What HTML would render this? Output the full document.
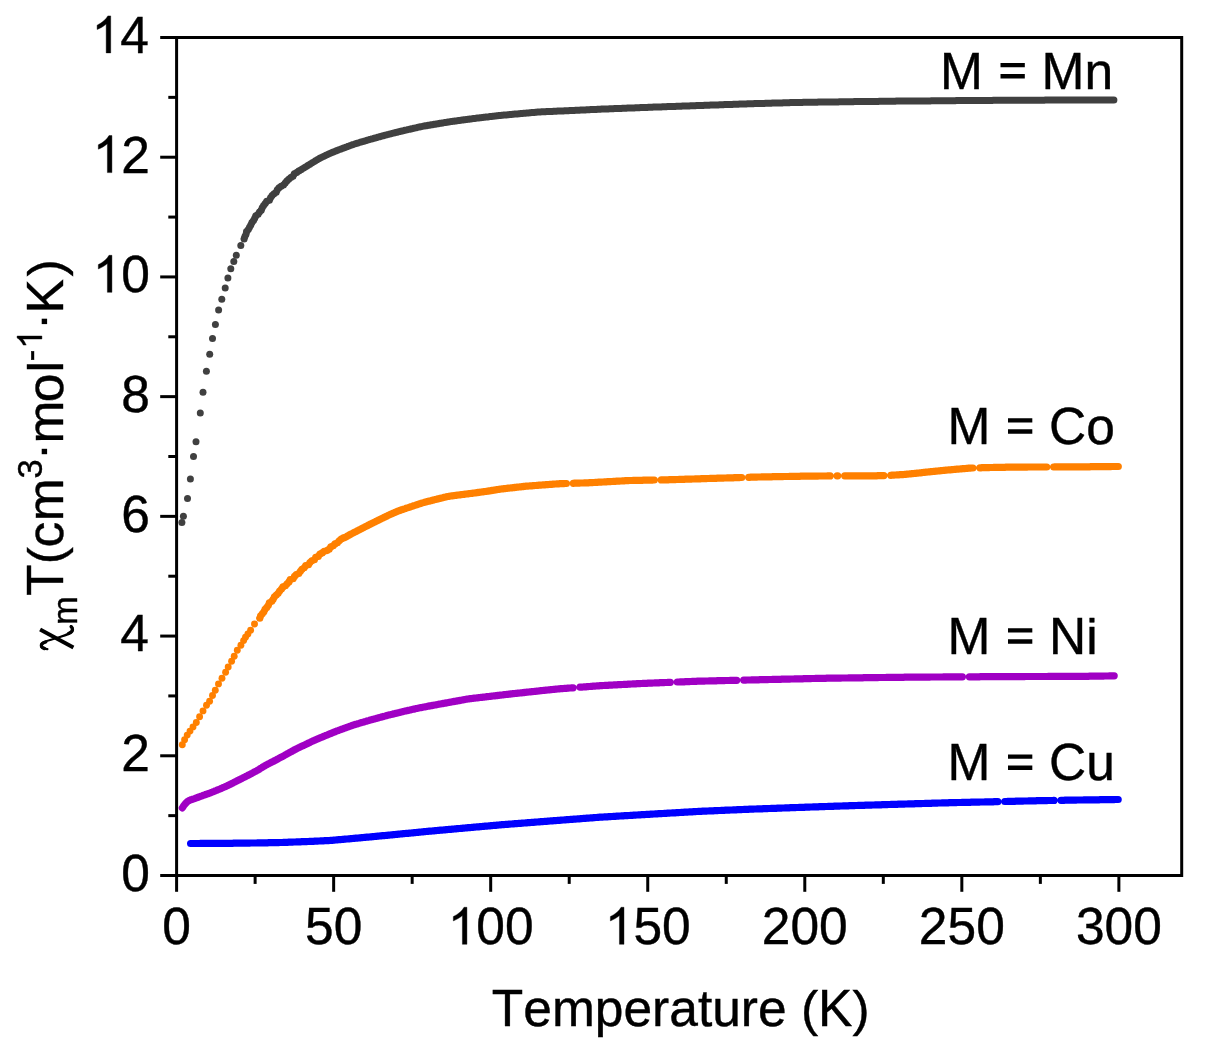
<!DOCTYPE html>
<html><head><meta charset="utf-8"><title>chart</title>
<style>html,body{margin:0;padding:0;background:#fff;}body{width:1206px;height:1052px;overflow:hidden;}svg{display:block;}text{font-family:"Liberation Sans",sans-serif;fill:#000;font-kerning:none;font-variant-ligatures:none;white-space:pre;stroke:#000;stroke-width:0.40px;}</style></head><body>
<svg width="1206" height="1052" viewBox="0 0 1206 1052">
<rect x="0" y="0" width="1206" height="1052" fill="#fff"/>
<defs><filter id="g" x="-20%" y="-20%" width="140%" height="140%" color-interpolation-filters="sRGB"><feOffset dx="0" dy="0"/></filter></defs>
<g>
<path d="M190.6 843.5 L191.6 843.5 L192.6 843.5 L193.6 843.5 L194.6 843.5 L195.6 843.5 L196.6 843.5 L197.6 843.5 L198.6 843.5 L199.6 843.5 L200.6 843.4 L201.6 843.4 L202.6 843.4 L203.6 843.4 L204.6 843.4 L205.6 843.4 L206.6 843.4 L207.6 843.4 L208.6 843.4 L209.6 843.4 L210.6 843.4 L211.6 843.4 L212.6 843.4 L213.6 843.4 L214.6 843.4 L215.6 843.4 L216.6 843.4 L217.6 843.4 L218.6 843.4 L219.6 843.3 L220.6 843.3 L221.6 843.3 L222.6 843.3 L223.6 843.3 L224.6 843.3 L225.6 843.3 L226.6 843.3 L227.6 843.3 L228.6 843.3 L229.6 843.3 L230.6 843.3 L231.6 843.3 L232.6 843.3 L233.6 843.2 L234.6 843.2 L235.6 843.2 L236.6 843.2 L237.6 843.2 L238.6 843.2 L239.6 843.2 L240.6 843.2 L241.6 843.1 L242.6 843.1 L243.6 843.1 L244.6 843.1 L245.6 843.1 L246.6 843.1 L247.6 843.1 L248.6 843.1 L249.6 843.1 L250.6 843.0 L251.6 843.0 L252.6 843.0 L253.6 843.0 L254.6 843.0 L255.6 843.0 L256.6 843.0 L257.6 842.9 L258.6 842.9 L259.6 842.9 L260.6 842.9 L261.6 842.9 L262.6 842.9 L263.6 842.8 L264.6 842.8 L265.6 842.8 L266.6 842.8 L267.6 842.8 L268.6 842.7 L269.6 842.7 L270.6 842.7 L271.6 842.7 L272.6 842.7 L273.6 842.6 L274.6 842.6 L275.6 842.6 L276.6 842.6 L277.6 842.6 L278.6 842.6 L279.6 842.5 L280.6 842.5 L281.6 842.5 L282.6 842.5 L283.6 842.4 L284.6 842.4 L285.6 842.3 L286.6 842.3 L287.6 842.3 L288.6 842.2 L289.6 842.2 L290.6 842.2 L291.6 842.1 L292.6 842.1 L293.6 842.0 L294.6 842.0 L295.6 842.0 L296.6 841.9 L297.6 841.9 L298.6 841.9 L299.6 841.8 L300.6 841.8 L301.6 841.7 L302.6 841.7 L303.6 841.7 L304.6 841.6 L305.6 841.6 L306.6 841.6 L307.6 841.5 L308.6 841.5 L309.6 841.4 L310.6 841.4 L311.6 841.3 L312.6 841.3 L313.6 841.3 L314.6 841.2 L315.6 841.2 L316.6 841.1 L317.6 841.1 L318.6 841.0 L319.6 841.0 L320.6 840.9 L321.6 840.9 L322.6 840.8 L323.6 840.8 L324.6 840.7 L325.6 840.7 L326.6 840.7 L327.6 840.6 L328.6 840.6 L329.6 840.5 L330.5 840.4 L331.5 840.4 L332.5 840.3 L333.5 840.2 L334.5 840.1 L335.5 840.0 L336.5 839.9 L337.5 839.8 L338.5 839.7 L339.5 839.7 L340.5 839.6 L341.5 839.5 L342.5 839.4 L343.5 839.3 L344.5 839.2 L345.5 839.1 L346.5 839.0 L347.5 839.0 L348.5 838.9 L349.5 838.8 L350.5 838.7 L351.5 838.6 L352.5 838.5 L353.5 838.4 L354.5 838.3 L355.5 838.2 L356.4 838.2 L357.4 838.1 L358.4 838.0 L359.4 837.9 L360.4 837.8 L361.4 837.7 L362.4 837.6 L363.4 837.5 L364.4 837.4 L365.4 837.3 L366.4 837.2 L367.4 837.1 L368.4 837.1 L369.4 837.0 L370.4 836.9 L371.4 836.8 L372.4 836.7 L373.4 836.6 L374.4 836.5 L375.4 836.4 L376.4 836.3 L377.4 836.2 L378.4 836.1 L379.4 836.0 L380.3 835.9 L381.3 835.8 L382.3 835.7 L383.3 835.7 L384.3 835.6 L385.3 835.5 L386.3 835.4 L387.3 835.3 L388.3 835.2 L389.3 835.1 L390.3 835.0 L391.3 834.9 L392.3 834.8 L393.3 834.7 L394.3 834.6 L395.3 834.5 L396.3 834.4 L397.3 834.3 L398.3 834.2 L399.3 834.1 L400.3 834.0 L401.2 833.9 L402.2 833.8 L403.2 833.7 L404.2 833.6 L405.2 833.5 L406.2 833.4 L407.2 833.3 L408.2 833.3 L409.2 833.2 L410.2 833.1 L411.2 833.0 L412.2 832.9 L413.2 832.8 L414.2 832.7 L415.2 832.6 L416.2 832.5 L417.2 832.4 L418.2 832.3 L419.2 832.2 L420.2 832.1 L421.2 832.0 L422.2 831.9 L423.1 831.8 L424.1 831.7 L425.1 831.6 L426.1 831.5 L427.1 831.4 L428.1 831.3 L429.1 831.2 L430.1 831.1 L431.1 831.1 L432.1 831.0 L433.1 830.9 L434.1 830.8 L435.1 830.7 L436.1 830.6 L437.1 830.5 L438.1 830.4 L439.1 830.3 L440.1 830.2 L441.1 830.2 L442.1 830.1 L443.1 830.0 L444.1 829.9 L445.1 829.8 L446.1 829.7 L447.0 829.6 L448.0 829.5 L449.0 829.4 L450.0 829.3 L451.0 829.3 L452.0 829.2 L453.0 829.1 L454.0 829.0 L455.0 828.9 L456.0 828.8 L457.0 828.7 L458.0 828.6 L459.0 828.5 L460.0 828.5 L461.0 828.4 L462.0 828.3 L463.0 828.2 L464.0 828.1 L465.0 828.0 L466.0 827.9 L467.0 827.8 L468.0 827.7 L469.0 827.6 L470.0 827.6 L471.0 827.5 L471.9 827.4 L472.9 827.3 L473.9 827.2 L474.9 827.1 L475.9 827.0 L476.9 826.9 L477.9 826.9 L478.9 826.8 L479.9 826.7 L480.9 826.6 L481.9 826.5 L482.9 826.4 L483.9 826.3 L484.9 826.2 L485.9 826.1 L486.9 826.1 L487.9 826.0 L488.9 825.9 L489.9 825.8 L490.9 825.7 L491.9 825.6 L492.9 825.5 L493.9 825.4 L494.9 825.3 L495.9 825.3 L496.8 825.2 L497.8 825.1 L498.8 825.0 L499.8 824.9 L500.8 824.8 L501.8 824.7 L502.8 824.7 L503.8 824.6 L504.8 824.5 L505.8 824.4 L506.8 824.4 L507.8 824.3 L508.8 824.2 L509.8 824.1 L510.8 824.0 L511.8 824.0 L512.8 823.9 L513.8 823.8 L514.8 823.7 L515.8 823.7 L516.8 823.6 L517.8 823.5 L518.8 823.4 L519.8 823.4 L520.8 823.3 L521.8 823.2 L522.8 823.1 L523.8 823.0 L524.8 823.0 L525.8 822.9 L526.8 822.8 L527.8 822.7 L528.7 822.7 L529.7 822.6 L530.7 822.5 L531.7 822.4 L532.7 822.3 L533.7 822.3 L534.7 822.2 L535.7 822.1 L536.7 822.0 L537.7 822.0 L538.7 821.9 L539.7 821.8 L540.7 821.7 L541.7 821.6 L542.7 821.6 L543.7 821.5 L544.7 821.4 L545.7 821.3 L546.7 821.3 L547.7 821.2 L548.7 821.1 L549.7 821.0 L550.7 820.9 L551.7 820.9 L552.7 820.8 L553.7 820.7 L554.7 820.6 L555.7 820.6 L556.7 820.5 L557.7 820.4 L558.7 820.3 L559.7 820.3 L560.7 820.2 L561.7 820.1 L562.6 820.0 L563.6 820.0 L564.6 819.9 L565.6 819.8 L566.6 819.7 L567.6 819.7 L568.6 819.6 L569.6 819.5 L570.6 819.4 L571.6 819.4 L572.6 819.3 L573.6 819.2 L574.6 819.1 L575.6 819.1 L576.6 819.0 L577.6 818.9 L578.6 818.8 L579.6 818.8 L580.6 818.7 L581.6 818.6 L582.6 818.5 L583.6 818.4 L584.6 818.4 L585.6 818.3 L586.6 818.2 L587.6 818.1 L588.6 818.1 L589.6 818.0 L590.6 817.9 L591.6 817.8 L592.6 817.8 L593.6 817.7 L594.6 817.6 L595.6 817.5 L596.6 817.5 L597.5 817.4 L598.5 817.3 L599.5 817.2 L600.5 817.2 L601.5 817.1 L602.5 817.1 L603.5 817.0 L604.5 816.9 L605.5 816.9 L606.5 816.8 L607.5 816.8 L608.5 816.7 L609.5 816.6 L610.5 816.6 L611.5 816.5 L612.5 816.5 L613.5 816.4 L614.5 816.3 L615.5 816.3 L616.5 816.2 L617.5 816.2 L618.5 816.1 L619.5 816.0 L620.5 816.0 L621.5 815.9 L622.5 815.9 L623.5 815.8 L624.5 815.7 L625.5 815.7 L626.5 815.6 L627.5 815.6 L628.5 815.5 L629.5 815.5 L630.5 815.4 L631.5 815.3 L632.5 815.3 L633.5 815.2 L634.5 815.2 L635.5 815.1 L636.5 815.0 L637.5 815.0 L638.5 814.9 L639.5 814.9 L640.5 814.8 L641.5 814.7 L642.5 814.7 L643.5 814.6 L644.5 814.6 L645.5 814.5 L646.5 814.4 L647.5 814.4 L648.5 814.3 L649.5 814.3 L650.5 814.2 L651.5 814.2 L652.4 814.1 L653.4 814.0 L654.4 814.0 L655.4 813.9 L656.4 813.9 L657.4 813.8 L658.4 813.7 L659.4 813.7 L660.4 813.6 L661.4 813.6 L662.4 813.5 L663.4 813.5 L664.4 813.4 L665.4 813.3 L666.4 813.3 L667.4 813.2 L668.4 813.2 L669.4 813.1 L670.4 813.0 L671.4 813.0 L672.4 812.9 L673.4 812.9 L674.4 812.8 L675.4 812.8 L676.4 812.7 L677.4 812.6 L678.4 812.6 L679.4 812.5 L680.4 812.5 L681.4 812.4 L682.4 812.3 L683.4 812.3 L684.4 812.2 L685.4 812.2 L686.4 812.1 L687.4 812.1 L688.4 812.0 L689.4 811.9 L690.4 811.9 L691.4 811.8 L692.4 811.8 L693.4 811.7 L694.4 811.6 L695.4 811.6 L696.4 811.5 L697.4 811.5 L698.4 811.4 L699.4 811.4 L700.4 811.3 L701.4 811.3 L702.4 811.2 L703.4 811.2 L704.4 811.1 L705.4 811.1 L706.4 811.1 L707.4 811.0 L708.4 811.0 L709.4 810.9 L710.4 810.9 L711.4 810.8 L712.4 810.8 L713.4 810.8 L714.4 810.7 L715.4 810.7 L716.4 810.6 L717.4 810.6 L718.4 810.5 L719.4 810.5 L720.4 810.5 L721.4 810.4 L722.3 810.4 L723.3 810.3 L724.3 810.3 L725.3 810.2 L726.3 810.2 L727.3 810.2 L728.3 810.1 L729.3 810.1 L730.3 810.0 L731.3 810.0 L732.3 810.0 L733.3 809.9 L734.3 809.9 L735.3 809.8 L736.3 809.8 L737.3 809.7 L738.3 809.7 L739.3 809.7 L740.3 809.6 L741.3 809.6 L742.3 809.5 L743.3 809.5 L744.3 809.4 L745.3 809.4 L746.3 809.4 L747.3 809.3 L748.3 809.3 L749.3 809.2 L750.3 809.2 L751.3 809.2 L752.3 809.1 L753.3 809.1 L754.3 809.0 L755.3 809.0 L756.3 809.0 L757.3 808.9 L758.3 808.9 L759.3 808.9 L760.3 808.8 L761.3 808.8 L762.3 808.8 L763.3 808.7 L764.3 808.7 L765.3 808.6 L766.3 808.6 L767.3 808.6 L768.3 808.5 L769.3 808.5 L770.3 808.5 L771.3 808.4 L772.3 808.4 L773.3 808.4 L774.3 808.3 L775.3 808.3 L776.3 808.3 L777.3 808.2 L778.3 808.2 L779.3 808.1 L780.3 808.1 L781.3 808.1 L782.3 808.0 L783.3 808.0 L784.3 808.0 L785.3 807.9 L786.3 807.9 L787.3 807.9 L788.3 807.8 L789.3 807.8 L790.3 807.7 L791.3 807.7 L792.3 807.7 L793.3 807.6 L794.3 807.6 L795.3 807.6 L796.3 807.5 L797.3 807.5 L798.3 807.5 L799.3 807.4 L800.3 807.4 L801.3 807.4 L802.3 807.3 L803.3 807.3 L804.3 807.3 L805.3 807.2 L806.3 807.2 L807.3 807.2 L808.3 807.1 L809.3 807.1 L810.3 807.0 L811.3 807.0 L812.3 807.0 L813.3 806.9 L814.3 806.9 L815.3 806.9 L816.3 806.8 L817.3 806.8 L818.3 806.8 L819.3 806.7 L820.3 806.7 L821.3 806.7 L822.3 806.6 L823.3 806.6 L824.3 806.6 L825.3 806.5 L826.3 806.5 L827.3 806.5 L828.3 806.4 L829.3 806.4 L830.3 806.4 L831.3 806.3 L832.3 806.3 L833.3 806.3 L834.3 806.2 L835.3 806.2 L836.3 806.2 L837.3 806.1 L838.3 806.1 L839.3 806.1 L840.3 806.0 L841.3 806.0 L842.3 806.0 L843.3 805.9 L844.3 805.9 L845.3 805.9 L846.3 805.8 L847.3 805.8 L848.3 805.8 L849.3 805.7 L850.3 805.7 L851.3 805.7 L852.3 805.6 L853.3 805.6 L854.3 805.6 L855.3 805.5 L856.3 805.5 L857.3 805.5 L858.3 805.4 L859.3 805.4 L860.3 805.4 L861.3 805.4 L862.3 805.3 L863.3 805.3 L864.3 805.3 L865.3 805.2 L866.3 805.2 L867.3 805.2 L868.3 805.1 L869.3 805.1 L870.3 805.1 L871.3 805.1 L872.3 805.0 L873.3 805.0 L874.3 805.0 L875.3 804.9 L876.3 804.9 L877.3 804.9 L878.2 804.8 L879.2 804.8 L880.2 804.8 L881.2 804.8 L882.2 804.7 L883.2 804.7 L884.2 804.7 L885.2 804.6 L886.2 804.6 L887.2 804.6 L888.2 804.5 L889.2 804.5 L890.2 804.5 L891.2 804.4 L892.2 804.4 L893.2 804.4 L894.2 804.4 L895.2 804.3 L896.2 804.3 L897.2 804.3 L898.2 804.2 L899.2 804.2 L900.2 804.2 L901.2 804.1 L902.2 804.1 L903.2 804.1 L904.2 804.1 L905.2 804.0 L906.2 804.0 L907.2 804.0 L908.2 803.9 L909.2 803.9 L910.2 803.9 L911.2 803.9 L912.2 803.8 L913.2 803.8 L914.2 803.8 L915.2 803.7 L916.2 803.7 L917.2 803.7 L918.2 803.6 L919.2 803.6 L920.2 803.6 L921.2 803.6 L922.2 803.5 L923.2 803.5 L924.2 803.5 L925.2 803.4 L926.2 803.4 L927.2 803.4 L928.2 803.3 L929.2 803.3 L930.2 803.3 L931.2 803.3 L932.2 803.2 L933.2 803.2 L934.2 803.2 L935.2 803.1 L936.2 803.1 L937.2 803.1 L938.2 803.0 L939.2 803.0 L940.2 803.0 L941.2 803.0 L942.2 802.9 L943.2 802.9 L944.2 802.9 L945.2 802.8 L946.2 802.8 L947.2 802.8 L948.2 802.8 L949.2 802.7 L950.2 802.7 L951.2 802.7 L952.2 802.7 L953.2 802.6 L954.2 802.6 L955.2 802.6 L956.2 802.6 L957.2 802.5 L958.2 802.5 L959.2 802.5 L960.2 802.5 L961.2 802.5 L962.2 802.4 L963.2 802.4 L964.2 802.4 L965.2 802.4 L966.2 802.4 L967.2 802.3 L968.2 802.3 L969.2 802.3 L970.2 802.3 L971.2 802.2 L972.2 802.2 L973.2 802.2 L974.2 802.2 L975.2 802.2 L976.2 802.1 L977.2 802.1 L978.2 802.1 L979.2 802.1 L980.2 802.0 L981.2 802.0 L982.2 802.0 L983.2 802.0 L984.2 802.0 L985.2 801.9 L986.2 801.9 L987.2 801.9 L988.2 801.9 L989.2 801.9 L990.2 801.8 L991.2 801.8 L992.2 801.8 L993.2 801.8 L994.2 801.7 L995.2 801.7 L996.2 801.7 L997.2 801.7 L997.8 801.7M1004.8 801.5 L1005.8 801.5 L1006.8 801.5 L1007.8 801.4 L1008.8 801.4 L1009.8 801.4 L1010.8 801.4 L1011.8 801.3 L1012.8 801.3 L1013.8 801.3 L1014.8 801.3 L1015.8 801.2 L1016.8 801.2 L1017.8 801.2 L1018.8 801.2 L1019.8 801.1 L1020.8 801.1 L1021.8 801.1 L1022.8 801.1 L1023.8 801.0 L1024.8 801.0 L1025.8 801.0 L1026.8 801.0 L1027.8 801.0 L1028.8 800.9 L1029.8 800.9 L1030.8 800.9 L1031.8 800.9 L1032.8 800.8 L1033.8 800.8 L1034.8 800.8 L1035.8 800.8 L1036.8 800.7 L1037.8 800.7 L1038.8 800.7 L1039.8 800.7 L1040.8 800.7 L1041.8 800.6 L1042.8 800.6 L1043.8 800.6 L1044.8 800.6 L1045.8 800.6 L1046.8 800.6 L1047.8 800.5 L1048.8 800.5 L1049.8 800.5 L1050.8 800.5 L1051.8 800.5 L1052.8 800.5 L1053.8 800.4 L1054.0 800.4M1061.0 800.3 L1062.0 800.3 L1063.0 800.3 L1064.0 800.3 L1065.0 800.2 L1066.0 800.2 L1067.0 800.2 L1068.0 800.2 L1069.0 800.2 L1070.0 800.2 L1071.0 800.1 L1072.0 800.1 L1073.0 800.1 L1074.0 800.1 L1075.0 800.1 L1076.0 800.1 L1077.0 800.0 L1078.0 800.0 L1079.0 800.0 L1080.0 800.0 L1081.0 800.0 L1082.0 800.0 L1083.0 800.0 L1084.0 799.9 L1085.0 799.9 L1086.0 799.9 L1087.0 799.9 L1088.0 799.9 L1089.0 799.9 L1090.0 799.9 L1091.0 799.9 L1092.0 799.8 L1093.0 799.8 L1094.0 799.8 L1095.0 799.8 L1096.0 799.8 L1097.0 799.8 L1098.0 799.8 L1099.0 799.8 L1100.0 799.7 L1101.0 799.7 L1102.0 799.7 L1103.0 799.7 L1104.0 799.7 L1105.0 799.7 L1106.0 799.7 L1107.0 799.6 L1108.0 799.6 L1109.0 799.6 L1110.0 799.6 L1111.0 799.6 L1112.0 799.6 L1113.0 799.6 L1114.0 799.6 L1115.0 799.5 L1116.0 799.5 L1117.0 799.5 L1118.0 799.5 L1118.2 799.5" fill="none" stroke="#0000ff" stroke-width="7.20" stroke-linecap="round" stroke-linejoin="round"/>
<path d="M182.3 807.9 L182.9 807.1 L183.4 806.2 L184.0 805.4 L184.6 804.6 L185.2 803.9 L185.9 803.1 L186.6 802.4 L187.3 801.7 L188.1 801.1 L189.0 800.6 L189.9 800.2 L190.8 799.8 L191.8 799.5 L192.7 799.2 L193.7 798.9 L194.6 798.6 L195.6 798.2 L196.5 797.9 L197.4 797.5 L198.4 797.2 L199.3 796.8 L200.2 796.5 L201.2 796.1 L202.1 795.8 L203.1 795.4 L204.0 795.1 L204.9 794.8 L205.9 794.5 L206.8 794.1 L207.8 793.8 L208.7 793.5 L209.7 793.1 L210.6 792.8 L211.5 792.4 L212.5 792.0 L213.4 791.6 L214.3 791.3 L215.2 790.9 L216.2 790.5 L217.1 790.1 L218.0 789.7 L218.9 789.4 L219.9 789.0 L220.8 788.6 L221.7 788.2 L222.6 787.8 L223.5 787.4 L224.5 787.0 L225.4 786.6 L226.3 786.2 L227.2 785.8 L228.1 785.4 L229.0 784.9 L229.9 784.5 L230.8 784.0 L231.7 783.6 L232.6 783.1 L233.5 782.7 L234.4 782.2 L235.2 781.8 L236.1 781.3 L237.0 780.9 L237.9 780.4 L238.8 780.0 L239.7 779.5 L240.6 779.1 L241.5 778.6 L242.4 778.2 L243.3 777.7 L244.2 777.3 L245.1 776.8 L246.0 776.4 L246.9 775.9 L247.7 775.5 L248.6 775.0 L249.5 774.6 L250.4 774.1 L251.3 773.6 L252.2 773.2 L253.1 772.7 L253.9 772.2 L254.8 771.7 L255.7 771.3 L256.6 770.8 L257.4 770.3 L258.3 769.8 L259.2 769.3 L260.0 768.7 L260.9 768.2 L261.7 767.7 L262.6 767.1 L263.4 766.6 L264.3 766.1 L265.1 765.6 L266.0 765.1 L266.9 764.6 L267.8 764.2 L268.7 763.7 L269.6 763.3 L270.4 762.8 L271.3 762.4 L272.2 761.9 L273.1 761.5 L274.0 761.0 L274.9 760.5 L275.8 760.1 L276.7 759.6 L277.5 759.1 L278.4 758.7 L279.3 758.2 L280.2 757.7 L281.1 757.2 L281.9 756.8 L282.8 756.3 L283.7 755.8 L284.6 755.3 L285.4 754.8 L286.3 754.3 L287.2 753.9 L288.1 753.4 L289.0 752.9 L289.8 752.4 L290.7 751.9 L291.6 751.5 L292.5 751.0 L293.3 750.5 L294.2 750.0 L295.1 749.5 L296.0 749.1 L296.9 748.6 L297.8 748.1 L298.6 747.7 L299.6 747.3 L300.5 746.9 L301.4 746.4 L302.3 746.0 L303.2 745.6 L304.1 745.2 L305.0 744.8 L305.9 744.3 L306.8 743.9 L307.7 743.5 L308.6 743.0 L309.5 742.6 L310.4 742.2 L311.3 741.7 L312.2 741.3 L313.1 740.9 L314.0 740.5 L314.9 740.1 L315.9 739.7 L316.8 739.3 L317.7 738.9 L318.6 738.5 L319.5 738.1 L320.5 737.7 L321.4 737.3 L322.3 737.0 L323.2 736.6 L324.2 736.2 L325.1 735.8 L326.0 735.4 L326.9 735.1 L327.9 734.7 L328.8 734.3 L329.7 733.9 L330.6 733.5 L331.6 733.2 L332.5 732.8 L333.4 732.4 L334.3 732.0 L335.3 731.7 L336.2 731.3 L337.1 730.9 L338.1 730.6 L339.0 730.2 L339.9 729.9 L340.9 729.5 L341.8 729.2 L342.8 728.9 L343.7 728.5 L344.6 728.2 L345.6 727.8 L346.5 727.5 L347.5 727.1 L348.4 726.8 L349.3 726.5 L350.3 726.1 L351.2 725.8 L352.2 725.5 L353.1 725.1 L354.1 724.8 L355.0 724.5 L356.0 724.2 L356.9 724.0 L357.9 723.7 L358.9 723.4 L359.8 723.1 L360.8 722.8 L361.7 722.5 L362.7 722.3 L363.7 722.0 L364.6 721.7 L365.6 721.4 L366.5 721.1 L367.5 720.9 L368.5 720.6 L369.4 720.3 L370.4 720.0 L371.3 719.8 L372.3 719.5 L373.3 719.2 L374.2 719.0 L375.2 718.7 L376.2 718.5 L377.1 718.2 L378.1 717.9 L379.1 717.7 L380.0 717.4 L381.0 717.1 L382.0 716.9 L382.9 716.6 L383.9 716.4 L384.9 716.1 L385.8 715.8 L386.8 715.6 L387.8 715.3 L388.7 715.1 L389.7 714.9 L390.7 714.6 L391.6 714.4 L392.6 714.1 L393.6 713.9 L394.6 713.7 L395.5 713.4 L396.5 713.2 L397.5 712.9 L398.4 712.7 L399.4 712.5 L400.4 712.2 L401.3 712.0 L402.3 711.8 L403.3 711.5 L404.3 711.3 L405.2 711.1 L406.2 710.9 L407.2 710.6 L408.2 710.4 L409.1 710.2 L410.1 710.0 L411.1 709.7 L412.1 709.5 L413.0 709.3 L414.0 709.1 L415.0 708.9 L416.0 708.6 L416.9 708.4 L417.9 708.2 L418.9 708.0 L419.9 707.8 L420.9 707.6 L421.8 707.4 L422.8 707.2 L423.8 707.0 L424.8 706.9 L425.8 706.7 L426.8 706.5 L427.7 706.3 L428.7 706.1 L429.7 705.9 L430.7 705.8 L431.7 705.6 L432.7 705.4 L433.6 705.2 L434.6 705.0 L435.6 704.9 L436.6 704.7 L437.6 704.5 L438.6 704.3 L439.5 704.1 L440.5 704.0 L441.5 703.8 L442.5 703.6 L443.5 703.4 L444.5 703.2 L445.4 703.1 L446.4 702.9 L447.4 702.7 L448.4 702.5 L449.4 702.3 L450.4 702.2 L451.3 702.0 L452.3 701.8 L453.3 701.6 L454.3 701.4 L455.3 701.3 L456.3 701.1 L457.3 700.9 L458.2 700.7 L459.2 700.6 L460.2 700.4 L461.2 700.2 L462.2 700.0 L463.2 699.8 L464.1 699.7 L465.1 699.5 L466.1 699.3 L467.1 699.1 L468.1 699.0 L469.1 698.8 L470.1 698.7 L471.1 698.6 L472.0 698.5 L473.0 698.3 L474.0 698.2 L475.0 698.1 L476.0 698.0 L477.0 697.9 L478.0 697.8 L479.0 697.6 L480.0 697.5 L481.0 697.4 L482.0 697.3 L483.0 697.2 L484.0 697.1 L485.0 697.0 L486.0 696.8 L486.9 696.7 L487.9 696.6 L488.9 696.5 L489.9 696.4 L490.9 696.3 L491.9 696.1 L492.9 696.0 L493.9 695.9 L494.9 695.8 L495.9 695.7 L496.9 695.6 L497.9 695.4 L498.9 695.3 L499.9 695.2 L500.9 695.1 L501.8 695.0 L502.8 694.9 L503.8 694.7 L504.8 694.6 L505.8 694.5 L506.8 694.4 L507.8 694.3 L508.8 694.2 L509.8 694.1 L510.8 693.9 L511.8 693.8 L512.8 693.7 L513.8 693.6 L514.8 693.5 L515.8 693.4 L516.7 693.3 L517.7 693.2 L518.7 693.1 L519.7 693.0 L520.7 692.9 L521.7 692.8 L522.7 692.7 L523.7 692.6 L524.7 692.4 L525.7 692.3 L526.7 692.2 L527.7 692.1 L528.7 692.0 L529.7 691.9 L530.7 691.8 L531.7 691.7 L532.7 691.6 L533.7 691.5 L534.6 691.4 L535.6 691.3 L536.6 691.2 L537.6 691.1 L538.6 691.0 L539.6 690.8 L540.6 690.7 L541.6 690.6 L542.6 690.5 L543.6 690.4 L544.6 690.3 L545.6 690.2 L546.6 690.1 L547.6 690.0 L548.6 689.9 L549.6 689.8 L550.6 689.7 L551.6 689.6 L552.5 689.5 L553.5 689.4 L554.5 689.3 L555.5 689.2 L556.5 689.1 L557.5 689.0 L558.5 688.9 L559.5 688.8 L560.5 688.7 L561.5 688.7 L562.5 688.6 L563.5 688.5 L564.5 688.4 L565.5 688.3 L566.5 688.3 L567.5 688.2 L568.5 688.1 L569.5 688.0 L570.5 688.0 L571.5 687.9 L572.5 687.8 L573.1 687.8M580.1 687.2 L581.0 687.1 L582.0 687.1 L583.0 687.0 L584.0 686.9 L585.0 686.8 L586.0 686.8 L587.0 686.7 L588.0 686.6 L589.0 686.5 L590.0 686.5 L591.0 686.4 L592.0 686.3 L593.0 686.2 L594.0 686.1 L595.0 686.1 L596.0 686.0 L597.0 685.9 L598.0 685.8 L599.0 685.8 L600.0 685.7 L601.0 685.6 L602.0 685.6 L603.0 685.5 L604.0 685.5 L605.0 685.4 L606.0 685.4 L607.0 685.3 L608.0 685.3 L609.0 685.2 L610.0 685.2 L611.0 685.1 L612.0 685.1 L613.0 685.0 L614.0 684.9 L615.0 684.9 L616.0 684.8 L617.0 684.8 L618.0 684.7 L619.0 684.7 L620.0 684.6 L621.0 684.6 L622.0 684.5 L623.0 684.5 L624.0 684.4 L625.0 684.4 L626.0 684.3 L627.0 684.3 L628.0 684.2 L629.0 684.2 L630.0 684.1 L631.0 684.0 L631.9 684.0 L632.9 683.9 L633.9 683.9 L634.9 683.8 L635.9 683.8 L636.9 683.7 L637.9 683.7 L638.9 683.6 L639.9 683.6 L640.9 683.5 L641.9 683.5 L642.9 683.4 L643.9 683.4 L644.9 683.3 L645.9 683.3 L646.9 683.3 L647.9 683.2 L648.9 683.2 L649.9 683.1 L650.9 683.1 L651.9 683.1 L652.9 683.0 L653.9 683.0 L654.9 682.9 L655.9 682.9 L656.9 682.9 L657.9 682.8 L658.9 682.8 L659.9 682.7 L660.9 682.7 L661.9 682.7 L662.9 682.6 L663.9 682.6 L664.9 682.5 L665.9 682.5 L666.9 682.5 L667.9 682.4 L668.9 682.4 L669.9 682.3 L670.3 682.3M677.3 682.0 L678.3 682.0 L679.3 682.0 L680.3 681.9 L681.3 681.9 L682.3 681.8 L683.3 681.8 L684.3 681.8 L685.3 681.7 L686.3 681.7 L687.3 681.6 L688.3 681.6 L689.3 681.6 L690.3 681.5 L691.3 681.5 L692.3 681.4 L693.3 681.4 L694.3 681.4 L695.3 681.3 L696.3 681.3 L697.3 681.2 L698.3 681.2 L699.3 681.2 L700.3 681.2 L701.3 681.1 L702.3 681.1 L703.3 681.1 L704.3 681.1 L705.3 681.0 L706.3 681.0 L707.3 681.0 L708.3 681.0 L709.3 680.9 L710.3 680.9 L711.3 680.9 L712.3 680.9 L713.3 680.8 L714.3 680.8 L715.3 680.8 L716.3 680.8 L717.3 680.7 L718.3 680.7 L719.3 680.7 L720.3 680.7 L721.3 680.6 L722.3 680.6 L723.3 680.6 L724.3 680.6 L725.3 680.5 L726.3 680.5 L727.3 680.5 L728.3 680.5 L729.3 680.5 L730.3 680.4 L731.3 680.4 L732.3 680.4 L733.3 680.4 L734.3 680.3 L735.3 680.3 L736.3 680.3 L736.7 680.3M743.7 680.1 L744.7 680.1 L745.7 680.1 L746.7 680.0 L747.7 680.0 L748.7 680.0 L749.7 680.0 L750.7 680.0 L751.7 679.9 L752.7 679.9 L753.7 679.9 L754.7 679.9 L755.7 679.8 L756.7 679.8 L757.7 679.8 L758.7 679.8 L759.7 679.7 L760.7 679.7 L761.7 679.7 L762.7 679.7 L763.7 679.7 L764.7 679.6 L765.7 679.6 L766.7 679.6 L767.7 679.6 L768.7 679.5 L769.7 679.5 L770.7 679.5 L771.7 679.5 L772.7 679.4 L773.7 679.4 L774.7 679.4 L775.7 679.4 L776.7 679.4 L777.7 679.3 L778.7 679.3 L779.7 679.3 L780.7 679.3 L781.7 679.2 L782.7 679.2 L783.7 679.2 L784.7 679.2 L785.7 679.1 L786.7 679.1 L787.7 679.1 L788.7 679.1 L789.7 679.1 L790.7 679.0 L791.7 679.0 L792.7 679.0 L793.7 679.0 L794.7 678.9 L795.7 678.9 L796.7 678.9 L797.7 678.9 L798.7 678.8 L799.7 678.8 L800.7 678.8 L801.7 678.8 L802.7 678.8 L803.7 678.7 L804.7 678.7 L805.7 678.7 L806.7 678.7 L807.7 678.6 L808.7 678.6 L809.7 678.6 L810.7 678.6 L811.7 678.5 L812.7 678.5 L813.7 678.5 L814.7 678.5 L815.7 678.4 L816.7 678.4 L817.7 678.4 L818.7 678.4 L819.7 678.4 L820.7 678.3 L821.7 678.3 L822.7 678.3 L823.7 678.3 L824.7 678.3 L825.7 678.3 L826.7 678.2 L827.7 678.2 L828.7 678.2 L829.7 678.2 L830.7 678.2 L831.7 678.2 L832.7 678.2 L833.7 678.1 L834.7 678.1 L835.7 678.1 L836.7 678.1 L837.7 678.1 L838.7 678.1 L839.7 678.1 L840.7 678.1 L841.7 678.0 L842.7 678.0 L843.7 678.0 L844.7 678.0 L845.7 678.0 L846.7 678.0 L847.7 678.0 L848.7 677.9 L849.7 677.9 L850.7 677.9 L851.7 677.9 L852.7 677.9 L853.7 677.9 L854.7 677.9 L855.7 677.9 L856.7 677.8 L857.7 677.8 L858.7 677.8 L859.7 677.8 L860.7 677.8 L861.7 677.8 L862.7 677.8 L863.7 677.7 L864.7 677.7 L865.7 677.7 L866.7 677.7 L867.7 677.7 L868.7 677.7 L869.7 677.7 L870.7 677.7 L871.7 677.6 L872.7 677.6 L873.7 677.6 L874.7 677.6 L875.7 677.6 L876.7 677.6 L877.7 677.6 L878.7 677.5 L879.7 677.5 L880.7 677.5 L881.7 677.5 L882.7 677.5 L883.7 677.5 L884.7 677.5 L885.7 677.5 L886.7 677.4 L887.7 677.4 L888.7 677.4 L889.7 677.4 L890.7 677.4 L891.6 677.4 L892.6 677.4 L893.6 677.3 L894.6 677.3 L895.6 677.3 L896.6 677.3 L897.6 677.3 L898.6 677.3 L899.6 677.3 L900.6 677.3 L901.6 677.3 L902.6 677.3 L903.6 677.3 L904.6 677.2 L905.6 677.2 L906.6 677.2 L907.6 677.2 L908.6 677.2 L909.6 677.2 L910.6 677.2 L911.6 677.2 L912.6 677.2 L913.6 677.2 L914.6 677.2 L915.6 677.2 L916.6 677.2 L917.6 677.1 L918.6 677.1 L919.6 677.1 L920.6 677.1 L921.6 677.1 L922.6 677.1 L923.6 677.1 L924.6 677.1 L925.6 677.1 L926.6 677.1 L927.6 677.1 L928.6 677.1 L929.6 677.1 L930.6 677.0 L931.6 677.0 L932.6 677.0 L933.6 677.0 L934.6 677.0 L935.6 677.0 L936.6 677.0 L937.6 677.0 L938.6 677.0 L939.6 677.0 L940.6 677.0 L941.6 677.0 L942.6 677.0 L943.6 676.9 L944.6 676.9 L945.6 676.9 L946.6 676.9 L947.6 676.9 L948.6 676.9 L949.6 676.9 L950.6 676.9 L951.6 676.9 L952.6 676.9 L953.6 676.9 L954.6 676.9 L955.6 676.9 L956.6 676.9 L957.6 676.9 L958.6 676.9 L959.6 676.9 L960.6 676.8 L961.6 676.8 L962.4 676.8M969.4 676.8 L970.4 676.8 L971.4 676.8 L972.4 676.8 L973.4 676.8 L974.4 676.8 L975.4 676.8 L976.4 676.8 L977.4 676.8 L978.4 676.8 L979.4 676.8 L980.4 676.7 L981.4 676.7 L982.4 676.7 L983.4 676.7 L984.4 676.7 L985.4 676.7 L986.4 676.7 L987.4 676.7 L988.4 676.7 L989.4 676.7 L990.4 676.7 L991.4 676.7 L992.4 676.7 L993.4 676.7 L994.4 676.7 L995.4 676.7 L996.4 676.7 L997.4 676.7 L998.4 676.7 L999.4 676.7 L1000.4 676.7 L1001.4 676.7 L1002.4 676.6 L1003.4 676.6 L1004.4 676.6 L1005.4 676.6 L1006.4 676.6 L1007.4 676.6 L1008.4 676.6 L1009.4 676.6 L1010.4 676.6 L1011.4 676.6 L1012.4 676.6 L1013.4 676.6 L1014.4 676.6 L1015.4 676.6 L1016.4 676.6 L1017.4 676.6 L1018.4 676.6 L1019.4 676.6 L1020.4 676.6 L1021.4 676.6 L1022.4 676.6 L1023.4 676.6 L1024.4 676.6 L1025.4 676.5 L1026.4 676.5 L1027.4 676.5 L1028.4 676.5 L1029.4 676.5 L1030.4 676.5 L1031.4 676.5 L1032.4 676.5 L1033.4 676.5 L1034.4 676.5 L1035.4 676.5 L1036.4 676.5 L1037.4 676.5 L1038.4 676.5 L1039.4 676.5 L1040.4 676.5 L1041.4 676.5 L1042.4 676.5 L1043.4 676.5 L1044.4 676.5 L1045.4 676.5 L1046.4 676.5 L1047.4 676.5 L1048.4 676.4 L1049.4 676.4 L1050.4 676.4 L1051.4 676.4 L1052.4 676.4 L1053.4 676.4 L1054.4 676.4 L1055.4 676.4 L1056.4 676.4 L1057.4 676.4 L1058.4 676.4 L1059.4 676.4 L1060.4 676.4 L1061.4 676.4 L1062.4 676.4 L1063.4 676.4 L1064.4 676.4 L1065.4 676.4 L1066.4 676.4 L1067.4 676.4 L1068.4 676.4 L1069.4 676.3 L1070.4 676.3 L1071.4 676.3 L1072.4 676.3 L1073.4 676.3 L1074.4 676.3 L1075.4 676.3 L1076.4 676.3 L1077.4 676.3 L1078.4 676.3 L1079.4 676.3 L1080.4 676.3 L1081.4 676.3 L1082.4 676.3 L1083.4 676.3 L1084.4 676.3 L1085.4 676.3 L1086.4 676.3 L1087.4 676.3 L1088.4 676.3 L1089.4 676.2 L1090.4 676.2 L1091.4 676.2 L1092.4 676.2 L1093.4 676.2 L1094.4 676.2 L1095.4 676.2 L1096.4 676.2 L1097.4 676.1 L1098.4 676.1 L1099.4 676.1 L1100.4 676.1 L1101.4 676.1 L1102.4 676.1 L1103.4 676.1 L1104.4 676.0 L1105.4 676.0 L1106.4 676.0 L1107.4 676.0 L1108.4 676.0 L1109.4 675.9 L1110.4 675.9 L1111.4 675.9 L1112.4 675.9 L1113.4 675.8 L1114.2 675.8" fill="none" stroke="#a000c4" stroke-width="7.20" stroke-linecap="round" stroke-linejoin="round"/>
<circle cx="182.3" cy="744.8" r="3.45" fill="#ff8000"/><circle cx="184.6" cy="739.8" r="3.45" fill="#ff8000"/><circle cx="187.2" cy="735.1" r="3.45" fill="#ff8000"/><circle cx="190.0" cy="731.1" r="3.45" fill="#ff8000"/><circle cx="193.0" cy="726.9" r="3.45" fill="#ff8000"/><circle cx="196.3" cy="722.5" r="3.45" fill="#ff8000"/><circle cx="199.6" cy="716.8" r="3.45" fill="#ff8000"/><circle cx="203.0" cy="710.9" r="3.45" fill="#ff8000"/><circle cx="206.5" cy="705.3" r="3.45" fill="#ff8000"/><circle cx="209.6" cy="701.2" r="3.45" fill="#ff8000"/><circle cx="212.5" cy="695.5" r="3.45" fill="#ff8000"/><circle cx="215.3" cy="690.3" r="3.45" fill="#ff8000"/><circle cx="218.5" cy="683.9" r="3.45" fill="#ff8000"/><circle cx="222.0" cy="678.3" r="3.45" fill="#ff8000"/><circle cx="225.6" cy="672.2" r="3.45" fill="#ff8000"/><circle cx="228.2" cy="667.0" r="3.45" fill="#ff8000"/><circle cx="231.6" cy="661.2" r="3.45" fill="#ff8000"/><circle cx="234.2" cy="656.2" r="3.45" fill="#ff8000"/><circle cx="237.3" cy="650.2" r="3.45" fill="#ff8000"/><circle cx="240.9" cy="645.3" r="3.45" fill="#ff8000"/><circle cx="243.6" cy="640.6" r="3.45" fill="#ff8000"/><circle cx="245.5" cy="637.3" r="3.45" fill="#ff8000"/><circle cx="247.9" cy="634.0" r="3.45" fill="#ff8000"/><circle cx="250.6" cy="630.2" r="3.45" fill="#ff8000"/><circle cx="254.5" cy="624.0" r="3.45" fill="#ff8000"/>
<path d="M259.2 617.9 L259.8 617.1 L260.4 616.3 L261.0 615.5 L261.6 614.7 L262.2 613.9 L262.7 613.1 L263.3 612.2 L263.9 611.4 L264.5 610.6 L265.1 609.8 L265.7 609.0 L266.3 608.2 L266.8 607.4 L267.4 606.6 L268.0 605.8 L268.6 604.9 L269.2 604.1 L269.8 603.3 L270.3 602.5 L270.9 601.7 L271.5 600.9 L272.1 600.1 L272.8 599.3 L273.4 598.5 L274.0 597.8 L274.6 597.0 L275.3 596.2 L275.9 595.5 L276.6 594.7 L277.2 593.9 L277.9 593.2 L278.5 592.4 L279.2 591.7 L279.9 590.9 L280.6 590.2 L281.3 589.5 L282.0 588.8 L282.7 588.1 L283.4 587.4 L284.1 586.7 L284.8 585.9 L285.5 585.2 L286.2 584.5 L286.9 583.8 L287.6 583.1 L288.3 582.4 L289.0 581.7 L289.7 581.0 L290.4 580.3 L291.2 579.6 L291.9 578.9 L292.6 578.2 L293.3 577.5 L294.0 576.8 L294.8 576.1 L295.5 575.5 L296.3 574.8 L297.0 574.1 L297.8 573.5 L298.5 572.9 L299.3 572.2 L300.1 571.6 L300.8 570.9 L301.6 570.3 L302.4 569.6 L303.1 569.0 L303.9 568.3 L304.6 567.6 L305.3 567.0 L306.1 566.3 L306.8 565.6 L307.6 564.9 L308.3 564.3 L309.0 563.6 L309.8 562.9 L310.5 562.3 L311.3 561.6 L312.1 561.0 L312.9 560.4 L313.6 559.7 L314.4 559.1 L315.2 558.5 L316.0 557.9 L316.8 557.3 L317.6 556.7 L318.4 556.1 L319.2 555.5 L320.0 554.9 L320.8 554.3 L321.6 553.7 L322.4 553.1 L323.2 552.5 L324.0 551.9 L324.8 551.4 L325.7 550.8 L326.5 550.2 L327.3 549.6 L328.1 549.0 L328.9 548.4 L329.7 547.9 L330.5 547.3 L331.3 546.7 L332.1 546.1 L333.0 545.5 L333.8 544.9 L334.6 544.4 L335.4 543.8 L336.2 543.2 L337.1 542.7 L337.9 542.1 L338.7 541.6 L339.6 541.0 L340.4 540.5 L341.2 539.9 L342.1 539.4 L342.9 538.8 L343.8 538.3 L344.6 537.8 L345.0 537.6" fill="none" stroke="#ff8000" stroke-width="5.40" stroke-linecap="round" stroke-linejoin="round"/>
<circle cx="259.8" cy="618.3" r="3.55" fill="#ff8000"/><circle cx="260.6" cy="615.7" r="3.55" fill="#ff8000"/><circle cx="262.3" cy="613.7" r="3.55" fill="#ff8000"/><circle cx="263.9" cy="611.7" r="3.55" fill="#ff8000"/><circle cx="265.0" cy="609.3" r="3.55" fill="#ff8000"/><circle cx="266.8" cy="607.4" r="3.55" fill="#ff8000"/><circle cx="268.4" cy="605.3" r="3.55" fill="#ff8000"/><circle cx="269.3" cy="602.7" r="3.55" fill="#ff8000"/><circle cx="271.8" cy="601.3" r="3.55" fill="#ff8000"/><circle cx="273.2" cy="599.2" r="3.55" fill="#ff8000"/><circle cx="274.4" cy="596.8" r="3.55" fill="#ff8000"/><circle cx="276.3" cy="595.0" r="3.55" fill="#ff8000"/><circle cx="278.2" cy="593.2" r="3.55" fill="#ff8000"/><circle cx="279.6" cy="591.0" r="3.55" fill="#ff8000"/><circle cx="281.5" cy="589.1" r="3.55" fill="#ff8000"/><circle cx="282.9" cy="586.9" r="3.55" fill="#ff8000"/><circle cx="285.4" cy="585.7" r="3.55" fill="#ff8000"/><circle cx="287.1" cy="583.7" r="3.55" fill="#ff8000"/><circle cx="289.0" cy="581.9" r="3.55" fill="#ff8000"/><circle cx="290.2" cy="579.5" r="3.55" fill="#ff8000"/><circle cx="293.1" cy="578.7" r="3.55" fill="#ff8000"/><circle cx="294.5" cy="576.4" r="3.55" fill="#ff8000"/><circle cx="296.3" cy="574.5" r="3.55" fill="#ff8000"/><circle cx="298.8" cy="573.5" r="3.55" fill="#ff8000"/><circle cx="300.4" cy="571.3" r="3.55" fill="#ff8000"/><circle cx="301.9" cy="569.2" r="3.55" fill="#ff8000"/><circle cx="304.2" cy="567.8" r="3.55" fill="#ff8000"/><circle cx="305.7" cy="565.6" r="3.55" fill="#ff8000"/><circle cx="308.5" cy="564.8" r="3.55" fill="#ff8000"/><circle cx="309.9" cy="562.5" r="3.55" fill="#ff8000"/><circle cx="311.8" cy="560.7" r="3.55" fill="#ff8000"/><circle cx="314.4" cy="559.8" r="3.55" fill="#ff8000"/><circle cx="315.7" cy="557.2" r="3.55" fill="#ff8000"/><circle cx="318.3" cy="556.4" r="3.55" fill="#ff8000"/><circle cx="319.9" cy="554.0" r="3.55" fill="#ff8000"/><circle cx="322.2" cy="552.9" r="3.55" fill="#ff8000"/><circle cx="324.2" cy="551.2" r="3.55" fill="#ff8000"/><circle cx="327.0" cy="550.6" r="3.55" fill="#ff8000"/><circle cx="329.2" cy="549.2" r="3.55" fill="#ff8000"/><circle cx="330.8" cy="546.9" r="3.55" fill="#ff8000"/><circle cx="333.2" cy="545.8" r="3.55" fill="#ff8000"/><circle cx="335.0" cy="543.9" r="3.55" fill="#ff8000"/><circle cx="337.4" cy="542.8" r="3.55" fill="#ff8000"/><circle cx="339.2" cy="540.8" r="3.55" fill="#ff8000"/><circle cx="341.2" cy="539.1" r="3.55" fill="#ff8000"/><circle cx="343.4" cy="537.7" r="3.55" fill="#ff8000"/>
<path d="M345.0 537.6 L345.9 537.0 L346.7 536.5 L347.6 536.0 L348.4 535.5 L349.3 535.0 L350.2 534.5 L351.1 534.0 L351.9 533.6 L352.8 533.1 L353.7 532.6 L354.6 532.2 L355.5 531.8 L356.4 531.3 L357.3 530.9 L358.2 530.4 L359.1 529.9 L360.0 529.5 L360.8 529.0 L361.7 528.6 L362.6 528.1 L363.5 527.6 L364.4 527.2 L365.3 526.7 L366.2 526.3 L367.1 525.8 L368.0 525.4 L368.8 524.9 L369.7 524.5 L370.6 524.0 L371.5 523.6 L372.4 523.1 L373.3 522.7 L374.2 522.3 L375.1 521.8 L376.0 521.4 L376.9 520.9 L377.8 520.5 L378.7 520.0 L379.6 519.6 L380.5 519.1 L381.4 518.7 L382.3 518.3 L383.2 517.8 L384.1 517.4 L385.0 517.0 L385.9 516.5 L386.8 516.1 L387.7 515.7 L388.6 515.2 L389.5 514.8 L390.4 514.4 L391.3 514.0 L392.2 513.6 L393.2 513.2 L394.1 512.8 L395.0 512.4 L395.9 512.0 L396.8 511.6 L397.8 511.2 L398.7 510.8 L399.6 510.5 L400.6 510.2 L401.5 509.8 L402.5 509.5 L403.4 509.2 L404.4 508.9 L405.3 508.6 L406.3 508.2 L407.2 507.9 L408.2 507.6 L409.1 507.3 L410.1 507.0 L411.0 506.7 L411.9 506.4 L412.9 506.0 L413.8 505.7 L414.8 505.4 L415.7 505.1 L416.7 504.8 L417.6 504.5 L418.6 504.1 L419.5 503.8 L420.5 503.5 L421.4 503.2 L422.4 502.9 L423.4 502.6 L424.3 502.3 L425.3 502.1 L426.2 501.8 L427.2 501.6 L428.2 501.3 L429.2 501.1 L430.1 500.9 L431.1 500.6 L432.1 500.4 L433.0 500.1 L434.0 499.9 L435.0 499.6 L435.9 499.4 L436.9 499.1 L437.9 498.9 L438.9 498.7 L439.8 498.4 L440.8 498.2 L441.8 497.9 L442.7 497.7 L443.7 497.4 L444.7 497.2 L445.6 497.0 L446.6 496.7 L447.6 496.5 L448.6 496.4 L449.6 496.2 L450.6 496.0 L451.5 495.9 L452.5 495.8 L453.5 495.7 L454.5 495.5 L455.5 495.4 L456.5 495.3 L457.5 495.1 L458.5 495.0 L459.5 494.9 L460.5 494.8 L461.5 494.6 L462.5 494.5 L463.5 494.4 L464.4 494.3 L465.4 494.1 L466.4 494.0 L467.4 493.9 L468.4 493.8 L469.4 493.6 L470.4 493.5 L471.4 493.4 L472.4 493.3 L473.4 493.1 L474.4 493.0 L475.4 492.9 L476.3 492.7 L477.3 492.6 L478.3 492.4 L479.3 492.3 L480.3 492.2 L481.3 492.0 L482.3 491.9 L483.3 491.8 L484.3 491.6 L485.3 491.5 L486.2 491.4 L487.2 491.2 L488.2 491.1 L489.2 490.9 L490.2 490.8 L491.2 490.6 L492.2 490.4 L493.2 490.3 L494.2 490.1 L495.1 489.9 L496.1 489.8 L497.1 489.6 L498.1 489.5 L499.1 489.3 L500.1 489.2 L501.1 489.0 L502.1 488.9 L503.1 488.8 L504.0 488.7 L505.0 488.6 L506.0 488.5 L507.0 488.3 L508.0 488.2 L509.0 488.1 L510.0 488.0 L511.0 487.9 L512.0 487.8 L513.0 487.7 L514.0 487.6 L515.0 487.4 L516.0 487.3 L517.0 487.2 L518.0 487.1 L519.0 487.0 L519.9 486.9 L520.9 486.8 L521.9 486.7 L522.9 486.6 L523.9 486.4 L524.9 486.3 L525.9 486.2 L526.9 486.2 L527.9 486.1 L528.9 486.0 L529.9 485.9 L530.9 485.8 L531.9 485.8 L532.9 485.7 L533.9 485.6 L534.9 485.5 L535.9 485.5 L536.9 485.4 L537.9 485.3 L538.9 485.2 L539.9 485.2 L540.9 485.1 L541.9 485.0 L542.9 484.9 L543.9 484.9 L544.9 484.8 L545.9 484.7 L546.9 484.6 L547.8 484.6 L548.8 484.5 L549.8 484.4 L550.8 484.3 L551.8 484.3 L552.8 484.2 L553.8 484.1 L554.8 484.0 L555.8 484.0 L556.8 483.9 L557.8 483.8 L558.8 483.8 L559.8 483.7 L560.8 483.7 L561.8 483.6 L562.8 483.6 L563.8 483.6 L564.8 483.5 L565.8 483.5 L566.4 483.5M573.4 483.3 L574.4 483.2 L575.4 483.2 L576.4 483.2 L577.4 483.1 L578.4 483.1 L579.4 483.1 L580.4 483.0 L581.4 483.0 L582.4 483.0 L583.4 483.0 L584.4 482.9 L585.4 482.9 L586.4 482.9 L587.4 482.8 L588.4 482.8 L589.4 482.7 L590.4 482.7 L591.4 482.6 L592.4 482.6 L593.4 482.5 L594.4 482.5 L595.4 482.4 L596.4 482.4 L597.4 482.3 L598.4 482.2 L599.4 482.2 L600.4 482.1 L601.4 482.1 L602.4 482.0 L603.4 482.0 L604.4 481.9 L605.4 481.9 L606.4 481.8 L607.4 481.7 L608.4 481.7 L609.4 481.6 L610.4 481.6 L611.4 481.5 L612.4 481.5 L613.4 481.4 L614.4 481.4 L615.4 481.3 L616.4 481.2 L617.4 481.2 L618.4 481.1 L619.4 481.1 L620.4 481.0 L621.4 481.0 L622.4 480.9 L623.3 480.9 L624.3 480.8 L625.3 480.7 L626.3 480.7 L627.3 480.6 L628.3 480.6 L629.3 480.5 L630.3 480.5 L631.3 480.5 L632.3 480.5 L633.3 480.4 L634.3 480.4 L635.3 480.4 L636.3 480.4 L637.3 480.4 L638.3 480.3 L639.3 480.3 L640.3 480.3 L641.3 480.3 L642.3 480.3 L643.3 480.2 L644.3 480.2 L645.3 480.2 L646.3 480.2 L647.3 480.2 L648.3 480.1 L649.3 480.1 L650.3 480.1 L651.3 480.1 L652.3 480.1 L653.3 480.0 L654.3 480.0M661.3 479.9 L662.3 479.9 L663.3 479.9 L664.3 479.8 L665.3 479.8 L666.3 479.8 L667.3 479.8 L668.3 479.8 L669.3 479.7 L670.3 479.7 L671.3 479.7 L672.3 479.7 L673.3 479.6 L674.3 479.6 L675.3 479.6 L676.3 479.5 L677.3 479.5 L678.3 479.5 L679.3 479.4 L680.3 479.4 L681.3 479.4 L682.3 479.3 L683.3 479.3 L684.3 479.3 L685.3 479.2 L686.3 479.2 L687.3 479.2 L688.3 479.2 L689.3 479.1 L690.3 479.1 L691.3 479.1 L692.3 479.0 L693.3 479.0 L694.3 479.0 L695.3 478.9 L696.3 478.9 L697.3 478.9 L698.3 478.8 L699.3 478.8 L700.3 478.8 L701.3 478.7 L702.3 478.7 L703.3 478.7 L704.3 478.6 L705.3 478.6 L706.3 478.6 L707.3 478.5 L708.3 478.5 L709.3 478.5 L710.3 478.4 L711.3 478.4 L712.3 478.4 L713.3 478.4 L714.3 478.3 L715.3 478.3 L716.3 478.3 L717.3 478.2 L718.3 478.2 L719.3 478.2 L720.3 478.1 L721.3 478.1 L722.3 478.1 L723.3 478.1 L724.3 478.0 L725.3 478.0 L726.3 478.0 L727.3 477.9 L728.3 477.9 L729.3 477.9 L730.3 477.8 L731.3 477.8 L732.3 477.8 L733.3 477.8 L734.3 477.7 L735.3 477.7 L736.3 477.7 L737.3 477.6 L738.3 477.6 L739.3 477.6 L740.3 477.5 L741.3 477.5 L741.7 477.5M748.7 477.3 L749.7 477.3 L750.7 477.2 L751.7 477.2 L752.7 477.2 L753.7 477.1 L754.7 477.1 L755.7 477.1 L756.7 477.1 L757.7 477.0 L758.7 477.0 L759.7 477.0 L760.7 477.0 L761.7 476.9 L762.7 476.9 L763.7 476.9 L764.7 476.9 L765.7 476.9 L766.7 476.8 L767.7 476.8 L768.7 476.8 L769.7 476.8 L770.7 476.8 L771.7 476.8 L772.7 476.7 L773.7 476.7 L774.7 476.7 L775.7 476.7 L776.7 476.7 L777.7 476.6 L778.7 476.6 L779.7 476.6 L780.7 476.6 L781.7 476.6 L782.7 476.6 L783.7 476.5 L784.7 476.5 L785.7 476.5 L786.7 476.5 L787.7 476.5 L788.7 476.5 L789.7 476.4 L790.7 476.4 L791.7 476.4 L792.7 476.4 L793.7 476.4 L794.7 476.3 L795.7 476.3 L796.7 476.3 L797.7 476.3 L798.7 476.3 L799.7 476.3 L800.7 476.2 L801.7 476.2 L802.7 476.2 L803.7 476.2 L804.7 476.2 L805.7 476.2 L806.7 476.2 L807.7 476.2 L808.7 476.2 L809.7 476.1 L810.7 476.1 L811.7 476.1 L812.7 476.1 L813.7 476.1 L814.7 476.1 L815.7 476.1 L816.7 476.1 L817.7 476.1 L818.7 476.0 L819.7 476.0 L820.7 476.0 L821.7 476.0 L822.7 476.0 L823.7 476.0 L824.7 476.0 L825.7 476.0 L826.7 476.0 L827.7 475.9 L828.7 475.9 L829.7 475.9 L830.1 475.9M837.1 475.8 L837.7 475.8M844.7 475.8 L845.7 475.8 L846.7 475.8 L847.7 475.8 L848.7 475.8 L849.7 475.8 L850.7 475.8 L851.7 475.8 L852.7 475.8 L853.7 475.8 L854.7 475.8 L855.7 475.9 L856.7 475.9 L857.7 475.9 L858.7 475.9 L859.7 475.9 L860.7 475.9 L861.7 475.9 L862.7 475.9 L863.7 475.9 L864.7 475.9 L865.7 475.9 L866.7 475.9 L867.7 475.9 L868.7 475.9 L869.7 475.9 L870.7 475.9 L871.7 475.9 L872.7 475.8 L873.7 475.8 L874.7 475.8 L875.7 475.8 L876.7 475.8 L877.7 475.7 L878.7 475.7 L879.7 475.7 L880.7 475.7 L881.7 475.7 L882.7 475.6 L883.7 475.6 L883.9 475.6M890.9 475.3 L891.9 475.2 L892.9 475.1 L893.9 475.1 L894.9 475.0 L895.9 475.0 L896.9 474.9 L897.9 474.9 L898.9 474.8 L899.9 474.7 L900.9 474.7 L901.9 474.6 L902.9 474.6 L903.8 474.5 L904.8 474.4 L905.8 474.3 L906.8 474.2 L907.8 474.1 L908.8 474.0 L909.8 473.9 L910.8 473.8 L911.8 473.7 L912.8 473.6 L913.8 473.5 L914.8 473.4 L915.8 473.3 L916.8 473.2 L917.8 473.1 L918.8 473.0 L919.8 472.9 L920.8 472.8 L921.8 472.7 L922.7 472.5 L923.7 472.4 L924.7 472.3 L925.7 472.2 L926.7 472.1 L927.7 472.0 L928.7 471.9 L929.7 471.8 L930.7 471.7 L931.7 471.6 L932.7 471.5 L933.7 471.4 L934.7 471.3 L935.7 471.2 L936.7 471.1 L937.7 471.0 L938.7 470.9 L939.7 470.8 L940.7 470.7 L941.6 470.6 L942.6 470.5 L943.6 470.4 L944.6 470.3 L945.6 470.2 L946.6 470.1 L947.6 470.0 L948.6 469.9 L949.6 469.8 L950.6 469.8 L951.6 469.7 L952.6 469.6 L953.6 469.5 L954.6 469.4 L955.6 469.3 L956.6 469.2 L957.6 469.2 L958.6 469.1 L959.6 469.0 L960.6 468.9 L961.6 468.8 L962.6 468.7 L963.6 468.6 L964.6 468.6 L965.6 468.5 L966.5 468.4 L967.5 468.3 L968.5 468.2 L969.5 468.2 L970.5 468.1 L971.5 468.0 L972.5 468.0 L972.9 468.0M979.9 467.8 L980.9 467.8 L981.9 467.7 L982.9 467.7 L983.9 467.7 L984.9 467.7 L985.9 467.6 L986.9 467.6 L987.9 467.6 L988.9 467.6 L989.9 467.5 L990.9 467.5 L991.9 467.5 L992.9 467.5 L993.9 467.4 L994.9 467.4 L995.9 467.4 L996.9 467.4 L997.9 467.4 L998.9 467.3 L999.9 467.3 L1000.9 467.3 L1001.9 467.3 L1002.9 467.3 L1003.9 467.3 L1004.9 467.3 L1005.9 467.2 L1006.9 467.2 L1007.9 467.2 L1008.9 467.2 L1009.9 467.2 L1010.9 467.2 L1011.9 467.2 L1012.9 467.2 L1013.9 467.2 L1014.9 467.2 L1015.9 467.2 L1016.9 467.1 L1017.9 467.1 L1018.9 467.1 L1019.9 467.1 L1020.9 467.1 L1021.9 467.1 L1022.9 467.1 L1023.9 467.1 L1024.9 467.1 L1025.9 467.1 L1026.9 467.1 L1027.9 467.0 L1028.9 467.0 L1029.9 467.0 L1030.9 467.0 L1031.9 467.0 L1032.9 467.0 L1033.9 467.0 L1034.9 467.0 L1035.9 467.0 L1036.9 467.0 L1037.9 467.0 L1038.9 467.0 L1039.9 467.0 L1040.9 467.0 L1041.9 467.0 L1042.9 467.0 L1043.9 467.0 L1044.9 467.0 L1045.9 467.0 L1046.7 467.0M1053.7 467.0 L1054.7 466.9 L1055.7 466.9 L1056.7 466.9 L1057.7 466.9 L1058.7 466.9 L1059.7 466.9 L1060.7 466.9 L1061.7 466.9 L1062.7 466.9 L1063.7 466.9 L1064.7 466.9 L1065.7 466.9 L1066.7 466.9 L1067.7 466.9 L1068.7 466.9 L1069.7 466.9 L1070.7 466.9 L1071.7 466.9 L1072.7 466.9 L1073.7 466.9 L1074.7 466.9 L1075.7 466.9 L1076.7 466.9 L1077.7 466.9 L1078.7 466.9 L1079.7 466.9 L1080.7 466.8 L1081.7 466.8 L1082.7 466.8 L1083.7 466.8 L1084.7 466.8 L1085.7 466.8 L1086.7 466.8 L1087.7 466.8 L1088.7 466.8 L1089.7 466.8 L1090.7 466.7 L1091.7 466.7 L1092.7 466.7 L1093.7 466.7 L1094.7 466.7 L1095.7 466.7 L1096.7 466.7 L1097.7 466.7 L1098.7 466.7 L1099.7 466.7 L1100.7 466.6 L1101.7 466.6 L1102.7 466.6 L1103.7 466.6 L1104.7 466.6 L1105.7 466.6 L1106.7 466.6 L1107.7 466.6 L1108.7 466.6 L1109.7 466.6 L1110.7 466.6 L1111.7 466.5 L1112.7 466.5 L1113.7 466.5 L1114.7 466.5 L1115.7 466.5 L1116.7 466.5 L1117.7 466.5 L1118.3 466.5" fill="none" stroke="#ff8000" stroke-width="7.20" stroke-linecap="round" stroke-linejoin="round"/>
<circle cx="181.9" cy="522.4" r="3.50" fill="#404040"/><circle cx="183.4" cy="516.3" r="3.50" fill="#404040"/><circle cx="187.5" cy="498.5" r="3.50" fill="#404040"/><circle cx="190.4" cy="479.1" r="3.50" fill="#404040"/><circle cx="193.5" cy="456.4" r="3.50" fill="#404040"/><circle cx="196.0" cy="441.8" r="3.50" fill="#404040"/><circle cx="200.3" cy="412.9" r="3.50" fill="#404040"/><circle cx="203.0" cy="392.3" r="3.50" fill="#404040"/><circle cx="206.4" cy="371.3" r="3.50" fill="#404040"/><circle cx="209.7" cy="354.2" r="3.50" fill="#404040"/><circle cx="212.5" cy="338.4" r="3.50" fill="#404040"/><circle cx="215.4" cy="324.5" r="3.50" fill="#404040"/><circle cx="218.6" cy="310.1" r="3.50" fill="#404040"/><circle cx="221.8" cy="299.2" r="3.50" fill="#404040"/><circle cx="225.2" cy="288.0" r="3.50" fill="#404040"/><circle cx="227.9" cy="278.1" r="3.50" fill="#404040"/><circle cx="230.8" cy="268.8" r="3.50" fill="#404040"/><circle cx="233.8" cy="261.4" r="3.50" fill="#404040"/><circle cx="236.3" cy="255.3" r="3.50" fill="#404040"/><circle cx="240.8" cy="245.4" r="3.50" fill="#404040"/>
<path d="M243.5 238.8 L244.0 237.9 L244.4 237.0 L244.9 236.1 L245.4 235.3 L245.8 234.4 L246.3 233.5 L246.8 232.6 L247.2 231.7 L247.7 230.8 L248.2 230.0 L248.7 229.1 L249.1 228.2 L249.6 227.3 L250.1 226.4 L250.6 225.6 L251.1 224.7 L251.6 223.8 L252.1 223.0 L252.6 222.1 L253.1 221.2 L253.6 220.4 L254.1 219.5 L254.7 218.7 L255.2 217.9 L255.7 217.0 L256.3 216.2 L256.8 215.3 L257.4 214.5 L257.9 213.7 L258.5 212.9 L259.1 212.0 L259.7 211.2 L260.2 210.4 L260.8 209.6 L261.4 208.8 L262.0 208.0 L262.6 207.2 L263.2 206.4 L263.8 205.6 L264.4 204.8 L265.1 204.0 L265.7 203.3 L266.4 202.5 L267.1 201.8 L267.8 201.1 L268.5 200.4 L269.2 199.7 L269.9 199.0 L270.6 198.2 L271.2 197.5 L271.9 196.7 L272.5 195.9 L273.1 195.1 L273.7 194.4 L274.3 193.6 L275.0 192.8 L275.6 192.0 L276.2 191.2 L276.9 190.5 L277.6 189.7 L278.3 189.0 L279.0 188.4 L279.8 187.7 L280.5 187.1 L281.3 186.4 L282.1 185.8 L282.9 185.2 L283.6 184.5 L284.4 183.8 L285.1 183.2 L285.8 182.5 L286.5 181.7 L287.2 181.0 L287.9 180.3 L288.5 179.6 L289.2 178.8 L289.9 178.1 L290.7 177.4 L291.4 176.8 L292.2 176.1 L293.0 175.5 L293.8 174.9 L294.6 174.3 L295.4 173.7 L296.2 173.1 L297.0 172.6 L297.8 172.0 L298.6 171.4 L299.4 170.8 L299.9 170.5" fill="none" stroke="#404040" stroke-width="5.40" stroke-linecap="round" stroke-linejoin="round"/>
<circle cx="244.1" cy="239.1" r="3.50" fill="#404040"/><circle cx="244.9" cy="236.6" r="3.50" fill="#404040"/><circle cx="246.0" cy="234.2" r="3.50" fill="#404040"/><circle cx="246.5" cy="231.6" r="3.50" fill="#404040"/><circle cx="248.3" cy="229.6" r="3.50" fill="#404040"/><circle cx="249.5" cy="227.3" r="3.50" fill="#404040"/><circle cx="250.8" cy="225.0" r="3.50" fill="#404040"/><circle cx="251.9" cy="222.6" r="3.50" fill="#404040"/><circle cx="253.5" cy="220.6" r="3.50" fill="#404040"/><circle cx="254.7" cy="218.2" r="3.50" fill="#404040"/><circle cx="255.8" cy="215.8" r="3.50" fill="#404040"/><circle cx="258.1" cy="214.2" r="3.50" fill="#404040"/><circle cx="259.5" cy="212.1" r="3.50" fill="#404040"/><circle cx="261.3" cy="210.2" r="3.50" fill="#404040"/><circle cx="262.2" cy="207.7" r="3.50" fill="#404040"/><circle cx="263.6" cy="205.4" r="3.50" fill="#404040"/><circle cx="265.2" cy="203.4" r="3.50" fill="#404040"/><circle cx="266.7" cy="201.2" r="3.50" fill="#404040"/><circle cx="269.4" cy="200.2" r="3.50" fill="#404040"/><circle cx="270.5" cy="197.7" r="3.50" fill="#404040"/><circle cx="272.1" cy="195.6" r="3.50" fill="#404040"/><circle cx="274.0" cy="193.8" r="3.50" fill="#404040"/><circle cx="276.2" cy="192.2" r="3.50" fill="#404040"/><circle cx="277.3" cy="189.8" r="3.50" fill="#404040"/><circle cx="279.0" cy="187.8" r="3.50" fill="#404040"/><circle cx="281.1" cy="186.2" r="3.50" fill="#404040"/><circle cx="283.5" cy="185.0" r="3.50" fill="#404040"/><circle cx="285.2" cy="183.1" r="3.50" fill="#404040"/><circle cx="286.8" cy="181.0" r="3.50" fill="#404040"/><circle cx="288.7" cy="179.2" r="3.50" fill="#404040"/><circle cx="290.8" cy="177.6" r="3.50" fill="#404040"/><circle cx="293.0" cy="176.3" r="3.50" fill="#404040"/><circle cx="294.3" cy="173.8" r="3.50" fill="#404040"/><circle cx="296.6" cy="172.5" r="3.50" fill="#404040"/><circle cx="298.7" cy="170.9" r="3.50" fill="#404040"/>
<path d="M300.0 170.4 L300.8 169.9 L301.7 169.4 L302.5 168.8 L303.4 168.3 L304.2 167.8 L305.1 167.2 L305.9 166.7 L306.8 166.2 L307.6 165.6 L308.5 165.1 L309.3 164.6 L310.2 164.1 L311.0 163.5 L311.9 163.0 L312.7 162.5 L313.6 162.0 L314.5 161.5 L315.3 160.9 L316.2 160.4 L317.0 159.9 L317.9 159.4 L318.7 158.9 L319.6 158.4 L320.5 157.9 L321.4 157.5 L322.3 157.0 L323.2 156.6 L324.1 156.2 L325.0 155.7 L325.9 155.3 L326.8 154.9 L327.7 154.5 L328.6 154.0 L329.5 153.6 L330.4 153.2 L331.4 152.8 L332.3 152.4 L333.2 152.1 L334.1 151.7 L335.1 151.3 L336.0 150.9 L336.9 150.6 L337.8 150.2 L338.8 149.8 L339.7 149.5 L340.6 149.1 L341.6 148.8 L342.5 148.4 L343.5 148.1 L344.4 147.7 L345.3 147.4 L346.3 147.0 L347.2 146.7 L348.1 146.3 L349.1 146.0 L350.0 145.6 L350.9 145.3 L351.9 144.9 L352.8 144.6 L353.8 144.3 L354.7 144.0 L355.7 143.7 L356.6 143.4 L357.6 143.1 L358.6 142.8 L359.5 142.5 L360.5 142.2 L361.4 142.0 L362.4 141.7 L363.4 141.4 L364.3 141.1 L365.3 140.8 L366.2 140.5 L367.2 140.3 L368.1 140.0 L369.1 139.7 L370.1 139.4 L371.0 139.2 L372.0 138.9 L373.0 138.6 L373.9 138.3 L374.9 138.1 L375.8 137.8 L376.8 137.5 L377.8 137.3 L378.7 137.0 L379.7 136.7 L380.7 136.5 L381.6 136.2 L382.6 135.9 L383.6 135.7 L384.5 135.4 L385.5 135.1 L386.5 134.9 L387.4 134.6 L388.4 134.4 L389.4 134.1 L390.3 133.9 L391.3 133.7 L392.3 133.4 L393.2 133.2 L394.2 132.9 L395.2 132.7 L396.1 132.4 L397.1 132.2 L398.1 132.0 L399.1 131.7 L400.0 131.5 L401.0 131.2 L402.0 131.0 L402.9 130.8 L403.9 130.5 L404.9 130.3 L405.9 130.1 L406.8 129.9 L407.8 129.6 L408.8 129.4 L409.8 129.2 L410.7 129.0 L411.7 128.8 L412.7 128.5 L413.7 128.3 L414.6 128.1 L415.6 127.9 L416.6 127.7 L417.6 127.4 L418.5 127.2 L419.5 127.0 L420.5 126.8 L421.5 126.6 L422.5 126.4 L423.4 126.2 L424.4 126.0 L425.4 125.8 L426.4 125.7 L427.4 125.5 L428.4 125.3 L429.3 125.2 L430.3 125.0 L431.3 124.8 L432.3 124.7 L433.3 124.5 L434.3 124.3 L435.3 124.2 L436.3 124.0 L437.2 123.8 L438.2 123.7 L439.2 123.5 L440.2 123.3 L441.2 123.2 L442.2 123.0 L443.2 122.9 L444.1 122.7 L445.1 122.5 L446.1 122.4 L447.1 122.2 L448.1 122.0 L449.1 121.9 L450.1 121.7 L451.1 121.6 L452.0 121.4 L453.0 121.3 L454.0 121.2 L455.0 121.0 L456.0 120.9 L457.0 120.8 L458.0 120.6 L459.0 120.5 L460.0 120.4 L461.0 120.2 L462.0 120.1 L462.9 120.0 L463.9 119.8 L464.9 119.7 L465.9 119.6 L466.9 119.4 L467.9 119.3 L468.9 119.2 L469.9 119.0 L470.9 118.9 L471.9 118.8 L472.9 118.6 L473.9 118.5 L474.8 118.4 L475.8 118.3 L476.8 118.1 L477.8 118.0 L478.8 117.9 L479.8 117.8 L480.8 117.7 L481.8 117.6 L482.8 117.4 L483.8 117.3 L484.8 117.2 L485.8 117.1 L486.8 117.0 L487.8 116.9 L488.7 116.8 L489.7 116.6 L490.7 116.5 L491.7 116.4 L492.7 116.3 L493.7 116.2 L494.7 116.1 L495.7 115.9 L496.7 115.8 L497.7 115.7 L498.7 115.6 L499.7 115.5 L500.7 115.4 L501.7 115.3 L502.7 115.2 L503.7 115.1 L504.7 115.0 L505.7 114.9 L506.6 114.9 L507.6 114.8 L508.6 114.7 L509.6 114.6 L510.6 114.5 L511.6 114.4 L512.6 114.3 L513.6 114.2 L514.6 114.1 L515.6 114.0 L516.6 114.0 L517.6 113.9 L518.6 113.8 L519.6 113.7 L520.6 113.6 L521.6 113.5 L522.6 113.4 L523.6 113.3 L524.6 113.2 L525.6 113.2 L526.6 113.1 L527.6 113.0 L528.6 112.9 L529.6 112.8 L530.6 112.7 L531.5 112.6 L532.5 112.6 L533.5 112.5 L534.5 112.4 L535.5 112.3 L536.5 112.2 L537.5 112.1 L538.5 112.0 L539.5 112.0 L540.5 111.9 L541.5 111.8 L542.5 111.8 L543.5 111.7 L544.5 111.7 L545.5 111.7 L546.5 111.6 L547.5 111.6 L548.5 111.5 L549.5 111.5 L550.5 111.4 L551.5 111.4 L552.5 111.4 L553.5 111.3 L554.5 111.3 L555.5 111.2 L556.5 111.2 L557.5 111.1 L558.5 111.1 L559.5 111.1 L560.5 111.0 L561.5 111.0 L562.5 110.9 L563.5 110.9 L564.5 110.8 L565.5 110.8 L566.5 110.8 L567.5 110.7 L568.5 110.7 L569.5 110.6 L570.5 110.6 L571.5 110.5 L572.5 110.5 L573.5 110.4 L574.5 110.4 L575.5 110.3 L576.5 110.3 L577.5 110.3 L578.5 110.2 L579.5 110.2 L580.5 110.1 L581.5 110.1 L582.5 110.0 L583.5 110.0 L584.5 109.9 L585.5 109.9 L586.5 109.8 L587.5 109.8 L588.5 109.7 L589.5 109.7 L590.5 109.6 L591.5 109.6 L592.5 109.6 L593.5 109.5 L594.5 109.5 L595.5 109.4 L596.5 109.4 L597.5 109.3 L598.5 109.3 L599.5 109.2 L600.5 109.2 L601.5 109.1 L602.5 109.1 L603.5 109.1 L604.5 109.0 L605.5 109.0 L606.5 108.9 L607.5 108.9 L608.4 108.9 L609.4 108.8 L610.4 108.8 L611.4 108.8 L612.4 108.7 L613.4 108.7 L614.4 108.6 L615.4 108.6 L616.4 108.6 L617.4 108.5 L618.4 108.5 L619.4 108.4 L620.4 108.4 L621.4 108.4 L622.4 108.3 L623.4 108.3 L624.4 108.2 L625.4 108.2 L626.4 108.2 L627.4 108.1 L628.4 108.1 L629.4 108.1 L630.4 108.0 L631.4 108.0 L632.4 107.9 L633.4 107.9 L634.4 107.9 L635.4 107.8 L636.4 107.8 L637.4 107.7 L638.4 107.7 L639.4 107.7 L640.4 107.6 L641.4 107.6 L642.4 107.5 L643.4 107.5 L644.4 107.5 L645.4 107.4 L646.4 107.4 L647.4 107.4 L648.4 107.3 L649.4 107.3 L650.4 107.2 L651.4 107.2 L652.4 107.2 L653.4 107.1 L654.4 107.1 L655.4 107.1 L656.4 107.0 L657.4 107.0 L658.4 107.0 L659.4 106.9 L660.4 106.9 L661.4 106.9 L662.4 106.8 L663.4 106.8 L664.4 106.7 L665.4 106.7 L666.4 106.7 L667.4 106.6 L668.4 106.6 L669.4 106.6 L670.4 106.5 L671.4 106.5 L672.4 106.5 L673.4 106.4 L674.4 106.4 L675.4 106.4 L676.4 106.3 L677.4 106.3 L678.4 106.3 L679.4 106.2 L680.4 106.2 L681.4 106.2 L682.4 106.1 L683.4 106.1 L684.4 106.0 L685.4 106.0 L686.4 106.0 L687.4 105.9 L688.4 105.9 L689.4 105.9 L690.4 105.8 L691.4 105.8 L692.4 105.8 L693.4 105.7 L694.4 105.7 L695.4 105.7 L696.4 105.6 L697.4 105.6 L698.4 105.6 L699.4 105.5 L700.4 105.5 L701.4 105.5 L702.4 105.4 L703.4 105.4 L704.4 105.3 L705.4 105.3 L706.4 105.3 L707.4 105.2 L708.4 105.2 L709.4 105.2 L710.4 105.1 L711.4 105.1 L712.4 105.1 L713.4 105.0 L714.4 105.0 L715.4 105.0 L716.4 104.9 L717.4 104.9 L718.4 104.9 L719.4 104.8 L720.4 104.8 L721.4 104.7 L722.4 104.7 L723.4 104.7 L724.4 104.6 L725.4 104.6 L726.4 104.6 L727.4 104.5 L728.4 104.5 L729.4 104.5 L730.4 104.4 L731.4 104.4 L732.4 104.4 L733.4 104.3 L734.4 104.3 L735.4 104.3 L736.4 104.2 L737.4 104.2 L738.4 104.2 L739.4 104.1 L740.4 104.1 L741.4 104.0 L742.4 104.0 L743.4 104.0 L744.4 103.9 L745.4 103.9 L746.4 103.9 L747.4 103.8 L748.4 103.8 L749.4 103.8 L750.4 103.7 L751.4 103.7 L752.4 103.7 L753.4 103.7 L754.4 103.6 L755.4 103.6 L756.4 103.6 L757.4 103.5 L758.4 103.5 L759.4 103.5 L760.4 103.5 L761.4 103.4 L762.4 103.4 L763.4 103.4 L764.4 103.4 L765.4 103.3 L766.4 103.3 L767.3 103.3 L768.3 103.2 L769.3 103.2 L770.3 103.2 L771.3 103.2 L772.3 103.1 L773.3 103.1 L774.3 103.1 L775.3 103.1 L776.3 103.0 L777.3 103.0 L778.3 103.0 L779.3 102.9 L780.3 102.9 L781.3 102.9 L782.3 102.9 L783.3 102.8 L784.3 102.8 L785.3 102.8 L786.3 102.8 L787.3 102.7 L788.3 102.7 L789.3 102.7 L790.3 102.6 L791.3 102.6 L792.3 102.6 L793.3 102.6 L794.3 102.5 L795.3 102.5 L796.3 102.5 L797.3 102.5 L798.3 102.4 L799.3 102.4 L800.3 102.4 L801.3 102.4 L802.3 102.4 L803.3 102.3 L804.3 102.3 L805.3 102.3 L806.3 102.3 L807.3 102.3 L808.3 102.3 L809.3 102.3 L810.3 102.2 L811.3 102.2 L812.3 102.2 L813.3 102.2 L814.3 102.2 L815.3 102.2 L816.3 102.2 L817.3 102.2 L818.3 102.1 L819.3 102.1 L820.3 102.1 L821.3 102.1 L822.3 102.1 L823.3 102.1 L824.3 102.1 L825.3 102.0 L826.3 102.0 L827.3 102.0 L828.3 102.0 L829.3 102.0 L830.3 102.0 L831.3 102.0 L832.3 101.9 L833.3 101.9 L834.3 101.9 L835.3 101.9 L836.3 101.9 L837.3 101.9 L838.3 101.9 L839.3 101.8 L840.3 101.8 L841.3 101.8 L842.3 101.8 L843.3 101.8 L844.3 101.8 L845.3 101.8 L846.3 101.8 L847.3 101.7 L848.3 101.7 L849.3 101.7 L850.3 101.7 L851.3 101.7 L852.3 101.7 L853.3 101.7 L854.3 101.6 L855.3 101.6 L856.3 101.6 L857.3 101.6 L858.3 101.6 L859.3 101.6 L860.3 101.6 L861.3 101.6 L862.3 101.6 L863.3 101.5 L864.3 101.5 L865.3 101.5 L866.3 101.5 L867.3 101.5 L868.3 101.5 L869.3 101.5 L870.3 101.5 L871.3 101.4 L872.3 101.4 L873.3 101.4 L874.3 101.4 L875.3 101.4 L876.3 101.4 L877.3 101.4 L878.3 101.4 L879.3 101.3 L880.3 101.3 L881.3 101.3 L882.3 101.3 L883.3 101.3 L884.3 101.3 L885.3 101.3 L886.3 101.3 L887.3 101.3 L888.3 101.2 L889.3 101.2 L890.3 101.2 L891.3 101.2 L892.3 101.2 L893.3 101.2 L894.3 101.2 L895.3 101.2 L896.3 101.1 L897.3 101.1 L898.3 101.1 L899.3 101.1 L900.3 101.1 L901.3 101.1 L902.3 101.1 L903.3 101.1 L904.3 101.1 L905.3 101.1 L906.3 101.0 L907.3 101.0 L908.3 101.0 L909.3 101.0 L910.3 101.0 L911.3 101.0 L912.3 101.0 L913.3 101.0 L914.3 101.0 L915.3 101.0 L916.3 101.0 L917.3 101.0 L918.3 101.0 L919.3 100.9 L920.3 100.9 L921.3 100.9 L922.3 100.9 L923.3 100.9 L924.3 100.9 L925.3 100.9 L926.3 100.9 L927.3 100.9 L928.3 100.9 L929.3 100.9 L930.3 100.9 L931.3 100.8 L932.3 100.8 L933.3 100.8 L934.3 100.8 L935.3 100.8 L936.3 100.8 L937.3 100.8 L938.3 100.8 L939.3 100.8 L940.3 100.8 L941.3 100.8 L942.3 100.8 L943.3 100.8 L944.3 100.7 L945.3 100.7 L946.3 100.7 L947.3 100.7 L948.3 100.7 L949.3 100.7 L950.3 100.7 L951.3 100.7 L952.3 100.7 L953.3 100.7 L954.3 100.7 L955.3 100.7 L956.3 100.6 L957.3 100.6 L958.3 100.6 L959.3 100.6 L960.3 100.6 L961.3 100.6 L962.3 100.6 L963.3 100.6 L964.3 100.6 L965.3 100.6 L966.3 100.6 L967.3 100.6 L968.3 100.6 L969.3 100.5 L970.3 100.5 L971.3 100.5 L972.3 100.5 L973.3 100.5 L974.3 100.5 L975.3 100.5 L976.3 100.5 L977.3 100.5 L978.3 100.5 L979.3 100.5 L980.3 100.5 L981.3 100.4 L982.3 100.4 L983.3 100.4 L984.3 100.4 L985.3 100.4 L986.3 100.4 L987.3 100.4 L988.3 100.4 L989.3 100.4 L990.3 100.4 L991.3 100.4 L992.3 100.4 L993.3 100.3 L994.3 100.3 L995.3 100.3 L996.3 100.3 L997.3 100.3 L998.3 100.3 L999.3 100.3 L1000.3 100.3 L1001.3 100.3 L1002.3 100.3 L1003.3 100.3 L1004.3 100.3 L1005.3 100.3 L1006.3 100.3 L1007.3 100.3 L1008.3 100.3 L1009.3 100.3 L1010.3 100.3 L1011.3 100.3 L1012.3 100.3 L1013.3 100.3 L1014.3 100.3 L1015.3 100.2 L1016.3 100.2 L1017.3 100.2 L1018.3 100.2 L1019.3 100.2 L1020.3 100.2 L1021.3 100.2 L1022.3 100.2 L1023.3 100.2 L1024.3 100.2 L1025.3 100.2 L1026.3 100.2 L1027.3 100.2 L1028.3 100.2 L1029.3 100.2 L1030.3 100.2 L1031.3 100.2 L1032.3 100.2 L1033.3 100.2 L1034.3 100.2 L1035.3 100.2 L1036.3 100.2 L1037.3 100.2 L1038.3 100.2 L1039.3 100.2 L1040.3 100.2 L1041.3 100.2 L1042.3 100.2 L1043.3 100.2 L1044.3 100.2 L1045.3 100.1 L1046.3 100.1 L1047.3 100.1 L1048.3 100.1 L1049.3 100.1 L1050.3 100.1 L1051.3 100.1 L1052.3 100.1 L1053.3 100.1 L1054.3 100.1 L1055.3 100.1 L1056.3 100.1 L1057.3 100.1 L1058.3 100.1 L1059.3 100.1 L1060.3 100.1 L1061.3 100.1 L1062.3 100.1 L1063.3 100.1 L1064.3 100.1 L1065.3 100.1 L1066.3 100.1 L1067.3 100.1 L1068.3 100.1 L1069.3 100.1 L1070.3 100.1 L1071.3 100.0 L1072.3 100.0 L1073.3 100.0 L1074.3 100.0 L1075.3 100.0 L1076.3 100.0 L1077.3 100.0 L1078.3 100.0 L1079.3 100.0 L1080.3 100.0 L1081.3 100.0 L1082.3 100.0 L1083.3 100.0 L1084.3 100.0 L1085.3 100.0 L1086.3 100.0 L1087.3 100.0 L1088.3 100.0 L1089.3 100.0 L1090.3 100.0 L1091.3 100.0 L1092.3 100.0 L1093.3 99.9 L1094.3 99.9 L1095.3 99.9 L1096.3 99.9 L1097.3 99.9 L1098.3 99.9 L1099.3 99.9 L1100.3 99.9 L1101.3 99.9 L1102.3 99.9 L1103.3 99.9 L1104.3 99.9 L1105.3 99.9 L1106.3 99.9 L1107.3 99.9 L1108.3 99.9 L1109.3 99.9 L1110.3 99.9 L1111.3 99.9 L1112.3 99.9 L1113.3 99.9 L1113.9 99.9" fill="none" stroke="#404040" stroke-width="7.00" stroke-linecap="round" stroke-linejoin="round"/>
</g>
<g stroke="#000" stroke-width="3" fill="none" stroke-linecap="butt">
<rect x="176.60" y="37.50" width="1005.10" height="838.00"/>
<line x1="160.20" y1="875.50" x2="176.60" y2="875.50"/>
<line x1="168.30" y1="815.64" x2="176.60" y2="815.64"/>
<line x1="160.20" y1="755.79" x2="176.60" y2="755.79"/>
<line x1="168.30" y1="695.93" x2="176.60" y2="695.93"/>
<line x1="160.20" y1="636.07" x2="176.60" y2="636.07"/>
<line x1="168.30" y1="576.21" x2="176.60" y2="576.21"/>
<line x1="160.20" y1="516.36" x2="176.60" y2="516.36"/>
<line x1="168.30" y1="456.50" x2="176.60" y2="456.50"/>
<line x1="160.20" y1="396.64" x2="176.60" y2="396.64"/>
<line x1="168.30" y1="336.79" x2="176.60" y2="336.79"/>
<line x1="160.20" y1="276.93" x2="176.60" y2="276.93"/>
<line x1="168.30" y1="217.07" x2="176.60" y2="217.07"/>
<line x1="160.20" y1="157.21" x2="176.60" y2="157.21"/>
<line x1="168.30" y1="97.36" x2="176.60" y2="97.36"/>
<line x1="160.20" y1="37.50" x2="176.60" y2="37.50"/>
<line x1="176.60" y1="875.50" x2="176.60" y2="891.80"/>
<line x1="255.12" y1="875.50" x2="255.12" y2="883.90"/>
<line x1="333.65" y1="875.50" x2="333.65" y2="891.80"/>
<line x1="412.17" y1="875.50" x2="412.17" y2="883.90"/>
<line x1="490.69" y1="875.50" x2="490.69" y2="891.80"/>
<line x1="569.22" y1="875.50" x2="569.22" y2="883.90"/>
<line x1="647.74" y1="875.50" x2="647.74" y2="891.80"/>
<line x1="726.26" y1="875.50" x2="726.26" y2="883.90"/>
<line x1="804.79" y1="875.50" x2="804.79" y2="891.80"/>
<line x1="883.31" y1="875.50" x2="883.31" y2="883.90"/>
<line x1="961.83" y1="875.50" x2="961.83" y2="891.80"/>
<line x1="1040.36" y1="875.50" x2="1040.36" y2="883.90"/>
<line x1="1118.88" y1="875.50" x2="1118.88" y2="891.80"/>
</g>
<text transform="translate(121.36,890.90) scale(1,1.020)" font-size="51.50">0</text>
<text transform="translate(121.36,771.19) scale(1,1.020)" font-size="51.50">2</text>
<text transform="translate(120.16,651.47) scale(1,1.020)" font-size="51.50">4</text>
<text transform="translate(121.36,531.76) scale(1,1.020)" font-size="51.50">6</text>
<text transform="translate(121.36,412.04) scale(1,1.020)" font-size="51.50">8</text>
<path transform="translate(92.72,292.33) scale(0.02515,-0.02515)" d="M763 0H583V1147Q518 1085 412.5 1023T223 930V1104Q374 1175 487 1276T647 1472H763Z" fill="#000" stroke="#000" stroke-width="15.9"/><text transform="translate(121.36,292.33) scale(1,1.020)" font-size="51.50">0</text>
<path transform="translate(92.72,172.61) scale(0.02515,-0.02515)" d="M763 0H583V1147Q518 1085 412.5 1023T223 930V1104Q374 1175 487 1276T647 1472H763Z" fill="#000" stroke="#000" stroke-width="15.9"/><text transform="translate(121.36,172.61) scale(1,1.020)" font-size="51.50">2</text>
<path transform="translate(91.52,52.90) scale(0.02515,-0.02515)" d="M763 0H583V1147Q518 1085 412.5 1023T223 930V1104Q374 1175 487 1276T647 1472H763Z" fill="#000" stroke="#000" stroke-width="15.9"/><text transform="translate(120.16,52.90) scale(1,1.020)" font-size="51.50">4</text>
<text transform="translate(162.28,944.30) scale(1,1.020)" font-size="51.50">0</text>
<text transform="translate(305.01,944.30) scale(1,1.020)" font-size="51.50">50</text>
<path transform="translate(447.73,944.30) scale(0.02515,-0.02515)" d="M763 0H583V1147Q518 1085 412.5 1023T223 930V1104Q374 1175 487 1276T647 1472H763Z" fill="#000" stroke="#000" stroke-width="15.9"/><text transform="translate(476.37,944.30) scale(1,1.020)" font-size="51.50">00</text>
<path transform="translate(604.78,944.30) scale(0.02515,-0.02515)" d="M763 0H583V1147Q518 1085 412.5 1023T223 930V1104Q374 1175 487 1276T647 1472H763Z" fill="#000" stroke="#000" stroke-width="15.9"/><text transform="translate(633.42,944.30) scale(1,1.020)" font-size="51.50">50</text>
<text transform="translate(761.82,944.30) scale(1,1.020)" font-size="51.50">200</text>
<text transform="translate(918.87,944.30) scale(1,1.020)" font-size="51.50">250</text>
<text transform="translate(1075.92,944.30) scale(1,1.020)" font-size="51.50">300</text>
<text transform="translate(491.81,1025.50) scale(1,1.020)" font-size="51.50">T</text><text transform="translate(523.27,1025.50) scale(1,1.000)" font-size="51.50">emperature </text><text transform="translate(800.94,1025.50) scale(1,0.985)" font-size="51.50">(</text><text transform="translate(818.09,1025.50) scale(1,1.020)" font-size="51.50">K</text><text transform="translate(852.44,1025.50) scale(1,0.985)" font-size="51.50">)</text>
<text transform="translate(940.00,88.70) scale(1,1.020)" font-size="51.50">M </text><path d="M1000.50 62.90h24.31v4.37h-24.31zM1000.50 74.05h24.31v4.37h-24.31z" fill="#000"/><text transform="translate(1027.28,88.70) scale(1,1.000)" font-size="51.50"> </text><text transform="translate(1041.59,88.70) scale(1,1.020)" font-size="51.50">M</text><text transform="translate(1084.49,88.70) scale(1,1.000)" font-size="51.50">n</text>
<text transform="translate(947.50,444.00) scale(1,1.020)" font-size="51.50">M </text><path d="M1008.00 418.20h24.31v4.37h-24.31zM1008.00 429.35h24.31v4.37h-24.31z" fill="#000"/><text transform="translate(1034.78,444.00) scale(1,1.000)" font-size="51.50"> </text><text transform="translate(1049.09,444.00) scale(1,1.020)" font-size="51.50">C</text><text transform="translate(1086.28,444.00) scale(1,1.000)" font-size="51.50">o</text>
<text transform="translate(947.50,654.00) scale(1,1.020)" font-size="51.50">M </text><path d="M1008.00 628.20h24.31v4.37h-24.31zM1008.00 639.35h24.31v4.37h-24.31z" fill="#000"/><text transform="translate(1034.78,654.00) scale(1,1.000)" font-size="51.50"> </text><text transform="translate(1049.09,654.00) scale(1,1.020)" font-size="51.50">N</text><text transform="translate(1086.28,654.00) scale(1,0.985)" font-size="51.50">i</text>
<text transform="translate(947.50,780.20) scale(1,1.020)" font-size="51.50">M </text><path d="M1008.00 754.40h24.31v4.37h-24.31zM1008.00 765.55h24.31v4.37h-24.31z" fill="#000"/><text transform="translate(1034.78,780.20) scale(1,1.000)" font-size="51.50"> </text><text transform="translate(1049.09,780.20) scale(1,1.020)" font-size="51.50">C</text><text transform="translate(1086.28,780.20) scale(1,1.000)" font-size="51.50">u</text>
<g filter="url(#g)">
<g transform="translate(63.00,650.1) rotate(-90)" fill="none" stroke="#000"><path d="M2.6 10.4 L20.6 -22.9" stroke-width="3.9" stroke-linecap="butt"/><path d="M0.9 -15.6 C1.2 -20.8 3.6 -22.8 6.2 -21.6 C8.8 -20.2 10.0 -12 12.3 -5.4 C14.6 2 16.6 9.4 20.4 9.7 C22.4 9.8 23.5 9.0 24.0 7.8" stroke-width="2.2" stroke-linecap="round"/><path d="M1.6 -18.6 C2.4 -21.6 4.2 -22.4 6.0 -21.2 C7.0 -20.4 7.6 -19 8.2 -17.2" stroke-width="3.4" stroke-linecap="round"/><path d="M16.6 5.6 C17.6 8.2 18.8 9.6 20.6 9.4 C22 9.3 22.8 8.8 23.3 8.2" stroke-width="3.4" stroke-linecap="round"/></g>
<text transform="translate(77.10,624.99) rotate(-90) scale(1.000,1.000)" font-size="34.50">m</text>
<text transform="translate(63.00,595.96) rotate(-90) scale(1.000,1.020)" font-size="51.50">T</text>
<text transform="translate(63.00,564.29) rotate(-90) scale(1.000,0.985)" font-size="51.50">(</text>
<text transform="translate(63.00,547.39) rotate(-90) scale(1.000,1.000)" font-size="51.50">c</text>
<text transform="translate(63.00,521.22) rotate(-90) scale(1.000,1.000)" font-size="51.50">m</text>
<text transform="translate(42.20,478.61) rotate(-90) scale(1.000,1.020)" font-size="34.50">3</text>
<rect x="41.7" y="448.8" width="5.4" height="5.4" fill="#000"/>
<text transform="translate(63.00,443.52) rotate(-90) scale(1.000,1.000)" font-size="51.50">m</text>
<text transform="translate(63.00,402.36) rotate(-90) scale(1.000,1.000)" font-size="51.50">o</text>
<text transform="translate(63.00,372.57) rotate(-90) scale(1.000,0.985)" font-size="51.50">l</text>
<text transform="translate(42.20,361.23) rotate(-90) scale(1.000,1.000)" font-size="34.50">-</text>
<path transform="translate(41.90,348.86) rotate(-90) scale(0.01685,-0.01685)" d="M763 0H583V1147Q518 1085 412.5 1023T223 930V1104Q374 1175 487 1276T647 1472H763Z" fill="#000" stroke="#000" stroke-width="23.7"/>
<rect x="41.7" y="318.7" width="5.4" height="5.4" fill="#000"/>
<text transform="translate(63.00,313.42) rotate(-90) scale(1.000,1.020)" font-size="51.50">K</text>
<text transform="translate(63.00,276.40) rotate(-90) scale(1.000,0.985)" font-size="51.50">)</text>
</g>
</svg></body></html>
